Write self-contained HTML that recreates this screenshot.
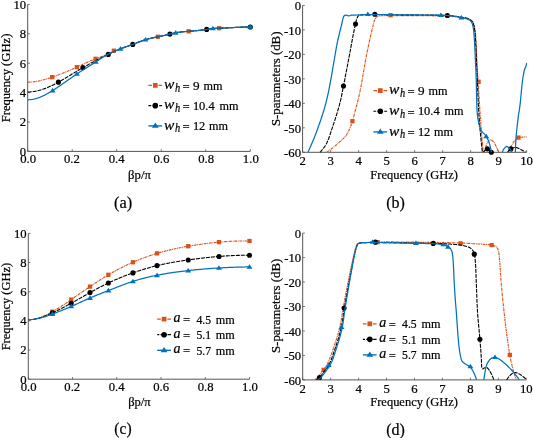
<!DOCTYPE html>
<html lang="en"><head><meta charset="utf-8"><title>Figure</title>
<style>html,body{margin:0;padding:0;background:#fff}svg{display:block;will-change:transform}svg text{stroke:#000;stroke-width:.22px;font-family:"Liberation Serif",serif}</style></head>
<body>
<svg width="533" height="438" viewBox="0 0 533 438" fill="#000">
<rect width="533" height="438" fill="#fff"/>
<g style="filter:opacity(1)">
<defs>
<clipPath id="ca"><rect x="27.7" y="1.4" width="223.6" height="150.4"/></clipPath>
<clipPath id="cb"><rect x="302.6" y="2.4" width="225" height="150.3"/></clipPath>
<clipPath id="cc"><rect x="28.3" y="230.4" width="222.2" height="149.2"/></clipPath>
<clipPath id="cd"><rect x="302.7" y="230.1" width="224.6" height="150.2"/></clipPath>
</defs>
<path d="M27.7 4.4 V151.4 H250.3" fill="none" stroke="#555555" stroke-width="1"/>
<path d="M27.7 151.4 v-2.2 M72.22 151.4 v-2.2 M116.74 151.4 v-2.2 M161.26 151.4 v-2.2 M205.78 151.4 v-2.2 M250.3 151.4 v-2.2 M27.7 151.4 h2.2 M27.7 122 h2.2 M27.7 92.6 h2.2 M27.7 63.2 h2.2 M27.7 33.8 h2.2 M27.7 4.4 h2.2" fill="none" stroke="#555555" stroke-width="0.8"/>
<text x="28.1" y="163.3" font-size="12.7" text-anchor="middle">0.0</text>
<text x="71.92" y="163.3" font-size="12.7" text-anchor="middle">0.2</text>
<text x="116.64" y="163.3" font-size="12.7" text-anchor="middle">0.4</text>
<text x="161.36" y="163.3" font-size="12.7" text-anchor="middle">0.6</text>
<text x="206.08" y="163.3" font-size="12.7" text-anchor="middle">0.8</text>
<text x="250.8" y="163.3" font-size="12.7" text-anchor="middle">1.0</text>
<text x="26.1" y="155.8" font-size="12.7" text-anchor="end">0</text>
<text x="26.1" y="126.4" font-size="12.7" text-anchor="end">2</text>
<text x="26.1" y="97" font-size="12.7" text-anchor="end">4</text>
<text x="26.1" y="67.6" font-size="12.7" text-anchor="end">6</text>
<text x="26.1" y="38.2" font-size="12.7" text-anchor="end">8</text>
<text x="26.1" y="8.8" font-size="12.7" text-anchor="end">10</text>
<path d="M27.7 82.16 L28.7 82.15 L29.7 82.12 L30.7 82.07 L31.7 81.99 L32.7 81.9 L33.7 81.79 L34.7 81.66 L35.7 81.51 L36.7 81.35 L37.7 81.17 L38.7 80.97 L39.7 80.76 L40.7 80.54 L41.7 80.3 L42.7 80.05 L43.7 79.78 L44.7 79.51 L45.7 79.23 L46.7 78.93 L47.7 78.63 L48.7 78.31 L49.7 77.99 L50.7 77.66 L51.7 77.33 L52.19 77.17 L52.7 76.99 L53.7 76.64 L54.7 76.29 L55.7 75.93 L56.7 75.57 L57.7 75.2 L58.7 74.83 L59.7 74.45 L60.7 74.07 L61.7 73.68 L62.7 73.28 L63.7 72.88 L64.7 72.48 L65.7 72.07 L66.7 71.66 L67.7 71.24 L68.7 70.81 L69.7 70.38 L70.7 69.95 L71.7 69.51 L72.7 69.07 L73.7 68.63 L74.7 68.17 L75.7 67.72 L76.7 67.26 L76.89 67.17 L77.7 66.8 L78.7 66.33 L79.7 65.86 L80.7 65.39 L81.7 64.91 L82.7 64.44 L83.7 63.97 L84.7 63.5 L85.7 63.04 L86.7 62.57 L87.7 62.12 L88.7 61.67 L89.7 61.22 L90.7 60.78 L91.7 60.36 L92.7 59.94 L93.7 59.53 L94.7 59.13 L95.59 58.79 L95.7 58.75 L96.7 58.38 L97.7 58.02 L98.7 57.66 L99.7 57.32 L100.7 56.97 L101.7 56.63 L102.7 56.28 L103.7 55.93 L104.7 55.57 L105.7 55.21 L106.7 54.83 L107.7 54.43 L107.84 54.38 L108.7 54.03 L109.7 53.6 L110.7 53.17 L111.7 52.72 L112.7 52.27 L113.7 51.81 L114.7 51.35 L115.7 50.9 L116.7 50.44 L117.7 50 L118.7 49.56 L119.7 49.13 L120.52 48.79 L120.7 48.72 L121.7 48.33 L122.7 47.94 L123.7 47.57 L124.7 47.21 L125.7 46.86 L126.7 46.51 L127.7 46.17 L128.7 45.82 L129.7 45.48 L130.7 45.13 L131.7 44.77 L132.7 44.41 L132.77 44.38 L133.7 44.04 L134.7 43.66 L135.7 43.27 L136.7 42.88 L137.7 42.49 L138.7 42.1 L139.7 41.72 L140.7 41.34 L141.7 40.96 L142.7 40.6 L143.7 40.25 L144.7 39.92 L145.46 39.68 L145.7 39.6 L146.7 39.31 L147.7 39.03 L148.7 38.76 L149.7 38.51 L150.7 38.27 L151.7 38.04 L152.7 37.82 L153.7 37.61 L154.7 37.4 L155.7 37.19 L156.7 36.99 L157.7 36.79 L157.92 36.74 L158.7 36.58 L159.7 36.37 L160.7 36.16 L161.7 35.95 L162.7 35.74 L163.7 35.52 L164.7 35.3 L165.7 35.08 L166.7 34.85 L167.7 34.62 L168.7 34.39 L169.7 34.15 L169.94 34.09 L170.7 33.91 L171.7 33.67 L172.7 33.43 L173.7 33.2 L174.7 32.98 L175.7 32.78 L175.73 32.77 L176.7 32.59 L177.7 32.42 L178.7 32.27 L179.7 32.13 L180.7 32.01 L181.7 31.9 L182.7 31.79 L183.7 31.7 L184.7 31.61 L185.7 31.53 L186.7 31.45 L187.7 31.37 L188.64 31.3 L188.7 31.3 L189.7 31.22 L190.7 31.14 L191.7 31.06 L192.7 30.97 L193.7 30.89 L194.7 30.8 L195.7 30.71 L196.7 30.61 L197.7 30.51 L198.7 30.41 L199.7 30.3 L200.7 30.19 L201.7 30.07 L202.7 29.94 L203.7 29.81 L204.7 29.68 L205.7 29.54 L206.67 29.39 L206.7 29.39 L207.7 29.23 L208.7 29.07 L209.7 28.92 L210.7 28.77 L211.7 28.64 L212.7 28.53 L212.9 28.51 L213.7 28.44 L214.7 28.37 L215.7 28.32 L216.7 28.28 L217.7 28.25 L218.7 28.23 L219.14 28.21 L219.7 28.2 L220.7 28.16 L221.7 28.13 L222.7 28.09 L223.7 28.04 L224.7 28 L225.7 27.95 L226.7 27.9 L227.7 27.85 L228.7 27.8 L229.7 27.75 L230.7 27.69 L231.7 27.64 L232.7 27.58 L233.7 27.53 L234.7 27.48 L234.72 27.48 L235.7 27.43 L236.7 27.38 L237.7 27.33 L238.7 27.29 L239.7 27.24 L240.7 27.2 L241.7 27.17 L242.7 27.14 L243.7 27.11 L244.7 27.08 L245.7 27.06 L246.7 27.05 L247.7 27.04 L248.7 27.03 L249.7 27.03 L250.3 27.04" fill="none" stroke="#D95319" stroke-width="1.15" stroke-dasharray="2.8 0.7 0.9 0.7" stroke-linejoin="round"/>
<rect x="50.04" y="75.02" width="4.3" height="4.3" fill="#D95319"/>
<rect x="74.74" y="65.02" width="4.3" height="4.3" fill="#D95319"/>
<rect x="93.44" y="56.64" width="4.3" height="4.3" fill="#D95319"/>
<rect x="111.7" y="48.56" width="4.3" height="4.3" fill="#D95319"/>
<rect x="155.77" y="34.59" width="4.3" height="4.3" fill="#D95319"/>
<rect x="186.49" y="29.15" width="4.3" height="4.3" fill="#D95319"/>
<rect x="216.99" y="26.06" width="4.3" height="4.3" fill="#D95319"/>
<path d="M27.7 92.01 L28.7 92 L29.7 91.96 L30.7 91.89 L31.7 91.8 L32.7 91.69 L33.7 91.55 L34.7 91.39 L35.7 91.2 L36.7 91 L37.7 90.77 L38.7 90.52 L39.7 90.25 L40.7 89.96 L41.7 89.65 L42.7 89.32 L43.7 88.97 L44.7 88.61 L45.7 88.23 L46.7 87.83 L47.7 87.42 L48.7 86.99 L49.7 86.55 L50.7 86.09 L51.7 85.62 L52.7 85.14 L53.7 84.65 L54.7 84.14 L55.7 83.62 L56.7 83.09 L57.7 82.56 L58.42 82.16 L58.7 82.01 L59.7 81.45 L60.7 80.89 L61.7 80.31 L62.7 79.74 L63.7 79.15 L64.7 78.56 L65.7 77.97 L66.7 77.37 L67.7 76.76 L68.7 76.16 L69.7 75.55 L70.7 74.94 L71.7 74.33 L72.7 73.72 L73.7 73.1 L74.7 72.49 L75.7 71.89 L76.7 71.28 L77.7 70.68 L78.7 70.08 L79.7 69.48 L80.7 68.89 L81.7 68.31 L82.7 67.73 L82.9 67.61 L83.7 67.16 L84.7 66.59 L85.7 66.03 L86.7 65.48 L87.7 64.93 L88.7 64.38 L89.7 63.84 L90.7 63.3 L91.7 62.77 L92.7 62.24 L93.7 61.7 L94.7 61.17 L95.59 60.7 L95.7 60.64 L96.7 60.11 L97.7 59.59 L98.7 59.06 L99.7 58.53 L100.7 58.01 L101.7 57.49 L102.7 56.97 L103.7 56.45 L104.7 55.94 L105.7 55.44 L106.7 54.94 L107.7 54.45 L107.84 54.38 L108.7 53.96 L109.7 53.48 L110.7 53.01 L111.7 52.54 L112.7 52.08 L113.7 51.63 L114.7 51.19 L115.7 50.76 L116.7 50.33 L117.7 49.92 L118.7 49.51 L119.7 49.11 L120.52 48.79 L120.7 48.73 L121.7 48.35 L122.7 47.98 L123.7 47.62 L124.7 47.26 L125.7 46.91 L126.7 46.56 L127.7 46.2 L128.7 45.85 L129.7 45.5 L130.7 45.14 L131.7 44.78 L132.7 44.41 L132.77 44.38 L133.7 44.03 L134.7 43.65 L135.7 43.26 L136.7 42.87 L137.7 42.48 L138.7 42.09 L139.7 41.7 L140.7 41.33 L141.7 40.96 L142.7 40.6 L143.7 40.25 L144.7 39.92 L145.46 39.68 L145.7 39.6 L146.7 39.31 L147.7 39.03 L148.7 38.76 L149.7 38.51 L150.7 38.27 L151.7 38.04 L152.7 37.82 L153.7 37.61 L154.7 37.4 L155.7 37.19 L156.7 36.99 L157.7 36.79 L157.92 36.74 L158.7 36.58 L159.7 36.37 L160.7 36.16 L161.7 35.95 L162.7 35.74 L163.7 35.52 L164.7 35.3 L165.7 35.08 L166.7 34.85 L167.7 34.62 L168.7 34.39 L169.7 34.15 L169.94 34.09 L170.7 33.91 L171.7 33.67 L172.7 33.43 L173.7 33.2 L174.7 32.98 L175.7 32.78 L175.73 32.77 L176.7 32.59 L177.7 32.42 L178.7 32.27 L179.7 32.13 L180.7 32.01 L181.7 31.9 L182.7 31.79 L183.7 31.7 L184.7 31.61 L185.7 31.53 L186.7 31.45 L187.7 31.37 L188.64 31.3 L188.7 31.3 L189.7 31.22 L190.7 31.14 L191.7 31.06 L192.7 30.97 L193.7 30.89 L194.7 30.8 L195.7 30.71 L196.7 30.61 L197.7 30.51 L198.7 30.41 L199.7 30.3 L200.7 30.19 L201.7 30.07 L202.7 29.94 L203.7 29.81 L204.7 29.68 L205.7 29.54 L206.67 29.39 L206.7 29.39 L207.7 29.23 L208.7 29.07 L209.7 28.92 L210.7 28.77 L211.7 28.64 L212.7 28.53 L212.9 28.51 L213.7 28.44 L214.7 28.37 L215.7 28.32 L216.7 28.28 L217.7 28.25 L218.7 28.23 L219.14 28.21 L219.7 28.2 L220.7 28.16 L221.7 28.13 L222.7 28.09 L223.7 28.04 L224.7 28 L225.7 27.95 L226.7 27.9 L227.7 27.85 L228.7 27.8 L229.7 27.75 L230.7 27.69 L231.7 27.64 L232.7 27.58 L233.7 27.53 L234.7 27.48 L234.72 27.48 L235.7 27.43 L236.7 27.38 L237.7 27.33 L238.7 27.29 L239.7 27.24 L240.7 27.2 L241.7 27.17 L242.7 27.14 L243.7 27.11 L244.7 27.08 L245.7 27.06 L246.7 27.05 L247.7 27.04 L248.7 27.03 L249.7 27.03 L250.3 27.04" fill="none" stroke="#000000" stroke-width="1.1" stroke-dasharray="4 1" stroke-linejoin="round"/>
<circle cx="58.42" cy="82.16" r="2.55" fill="#000000"/>
<circle cx="82.9" cy="67.61" r="2.55" fill="#000000"/>
<circle cx="108.28" cy="54.38" r="2.55" fill="#000000"/>
<circle cx="132.77" cy="44.38" r="2.55" fill="#000000"/>
<circle cx="169.94" cy="34.09" r="2.55" fill="#000000"/>
<circle cx="206.67" cy="29.39" r="2.55" fill="#000000"/>
<circle cx="250.3" cy="27.04" r="2.55" fill="#000000"/>
<path d="M27.7 99.8 L28.7 99.78 L29.7 99.73 L30.7 99.63 L31.7 99.5 L32.7 99.34 L33.7 99.14 L34.7 98.91 L35.7 98.65 L36.7 98.35 L37.7 98.03 L38.7 97.68 L39.7 97.31 L40.7 96.91 L41.7 96.48 L42.7 96.03 L43.7 95.56 L44.7 95.07 L45.7 94.55 L46.7 94.02 L47.7 93.47 L48.7 92.91 L49.7 92.32 L50.7 91.73 L51.7 91.12 L52.63 90.54 L52.7 90.5 L53.7 89.87 L54.7 89.22 L55.7 88.57 L56.7 87.91 L57.7 87.24 L58.7 86.57 L59.7 85.89 L60.7 85.2 L61.7 84.51 L62.7 83.81 L63.7 83.11 L64.7 82.41 L65.7 81.7 L66.7 81 L67.7 80.29 L68.7 79.59 L69.7 78.89 L70.7 78.18 L71.7 77.49 L72.7 76.79 L73.7 76.1 L74.7 75.41 L75.7 74.73 L76.7 74.06 L76.89 73.93 L77.7 73.4 L78.7 72.74 L79.7 72.08 L80.7 71.44 L81.7 70.8 L82.7 70.16 L83.7 69.52 L84.7 68.89 L85.7 68.26 L86.7 67.64 L87.7 67.01 L88.7 66.38 L89.7 65.76 L90.7 65.13 L91.7 64.5 L92.7 63.87 L93.7 63.23 L94.7 62.6 L95.7 61.95 L95.82 61.88 L96.7 61.3 L97.7 60.65 L98.7 60 L99.7 59.35 L100.7 58.7 L101.7 58.06 L102.7 57.42 L103.7 56.8 L104.7 56.19 L105.7 55.59 L106.7 55.01 L107.7 54.45 L107.84 54.38 L108.7 53.92 L109.7 53.4 L110.7 52.9 L111.7 52.42 L112.7 51.96 L113.7 51.52 L114.7 51.08 L115.7 50.67 L116.7 50.26 L117.7 49.86 L118.7 49.48 L119.7 49.1 L120.52 48.79 L120.7 48.73 L121.7 48.36 L122.7 48 L123.7 47.65 L124.7 47.29 L125.7 46.94 L126.7 46.58 L127.7 46.23 L128.7 45.87 L129.7 45.52 L130.7 45.15 L131.7 44.78 L132.7 44.41 L132.77 44.38 L133.7 44.03 L134.7 43.64 L135.7 43.25 L136.7 42.86 L137.7 42.47 L138.7 42.08 L139.7 41.7 L140.7 41.32 L141.7 40.95 L142.7 40.59 L143.7 40.25 L144.7 39.92 L145.46 39.68 L145.7 39.61 L146.7 39.31 L147.7 39.03 L148.7 38.77 L149.7 38.52 L150.7 38.28 L151.7 38.05 L152.7 37.82 L153.7 37.61 L154.7 37.4 L155.7 37.19 L156.7 36.99 L157.7 36.79 L157.92 36.74 L158.7 36.58 L159.7 36.37 L160.7 36.16 L161.7 35.95 L162.7 35.74 L163.7 35.52 L164.7 35.3 L165.7 35.08 L166.7 34.85 L167.7 34.62 L168.7 34.39 L169.7 34.15 L169.94 34.09 L170.7 33.91 L171.7 33.67 L172.7 33.43 L173.7 33.2 L174.7 32.98 L175.7 32.78 L175.73 32.77 L176.7 32.59 L177.7 32.42 L178.7 32.27 L179.7 32.13 L180.7 32.01 L181.7 31.9 L182.7 31.79 L183.7 31.7 L184.7 31.61 L185.7 31.53 L186.7 31.45 L187.7 31.37 L188.64 31.3 L188.7 31.3 L189.7 31.22 L190.7 31.14 L191.7 31.06 L192.7 30.97 L193.7 30.89 L194.7 30.8 L195.7 30.71 L196.7 30.61 L197.7 30.51 L198.7 30.41 L199.7 30.3 L200.7 30.19 L201.7 30.07 L202.7 29.94 L203.7 29.81 L204.7 29.68 L205.7 29.54 L206.67 29.39 L206.7 29.39 L207.7 29.23 L208.7 29.07 L209.7 28.92 L210.7 28.77 L211.7 28.64 L212.7 28.53 L212.9 28.51 L213.7 28.44 L214.7 28.37 L215.7 28.32 L216.7 28.28 L217.7 28.25 L218.7 28.23 L219.14 28.21 L219.7 28.2 L220.7 28.16 L221.7 28.13 L222.7 28.09 L223.7 28.04 L224.7 28 L225.7 27.95 L226.7 27.9 L227.7 27.85 L228.7 27.8 L229.7 27.75 L230.7 27.69 L231.7 27.64 L232.7 27.58 L233.7 27.53 L234.7 27.48 L234.72 27.48 L235.7 27.43 L236.7 27.38 L237.7 27.33 L238.7 27.29 L239.7 27.24 L240.7 27.2 L241.7 27.17 L242.7 27.14 L243.7 27.11 L244.7 27.08 L245.7 27.06 L246.7 27.05 L247.7 27.04 L248.7 27.03 L249.7 27.03 L250.3 27.04" fill="none" stroke="#0072BD" stroke-width="1.25" stroke-linejoin="round"/>
<path d="M52.63 87.84 L55.58 92.44 L49.68 92.44 Z" fill="#0072BD"/>
<path d="M76.89 71.23 L79.84 75.83 L73.94 75.83 Z" fill="#0072BD"/>
<path d="M95.82 59.18 L98.77 63.78 L92.87 63.78 Z" fill="#0072BD"/>
<path d="M120.52 46.09 L123.47 50.69 L117.57 50.69 Z" fill="#0072BD"/>
<path d="M145.46 36.98 L148.41 41.58 L142.51 41.58 Z" fill="#0072BD"/>
<path d="M175.73 30.07 L178.68 34.67 L172.78 34.67 Z" fill="#0072BD"/>
<path d="M212.9 25.66 L215.85 30.26 L209.95 30.26 Z" fill="#0072BD"/>
<path d="M250.3 24.04 L253.25 28.64 L247.35 28.64 Z" fill="#0072BD"/>
<text transform="translate(9.6 78) rotate(-90)" font-size="12.7" text-anchor="middle" textLength="88.7" lengthAdjust="spacingAndGlyphs">Frequency (GHz)</text>
<text x="139.5" y="178.8" font-size="12.7" text-anchor="middle" textLength="22.8" lengthAdjust="spacingAndGlyphs">βp/π</text>
<text x="123.1" y="207.6" font-size="16.5" text-anchor="middle" textLength="18.2" lengthAdjust="spacingAndGlyphs" stroke-width="0">(a)</text>
<path d="M302.6 5.4 V152.3 H526.6" fill="none" stroke="#555555" stroke-width="1"/>
<path d="M302.6 152.3 v-2.2 M330.6 152.3 v-2.2 M358.6 152.3 v-2.2 M386.6 152.3 v-2.2 M414.6 152.3 v-2.2 M442.6 152.3 v-2.2 M470.6 152.3 v-2.2 M498.6 152.3 v-2.2 M526.6 152.3 v-2.2 M302.6 152.3 h2.2 M302.6 127.82 h2.2 M302.6 103.33 h2.2 M302.6 78.85 h2.2 M302.6 54.37 h2.2 M302.6 29.88 h2.2 M302.6 5.4 h2.2" fill="none" stroke="#555555" stroke-width="0.8"/>
<text x="302.6" y="164.9" font-size="12.7" text-anchor="middle">2</text>
<text x="330.6" y="164.9" font-size="12.7" text-anchor="middle">3</text>
<text x="358.6" y="164.9" font-size="12.7" text-anchor="middle">4</text>
<text x="386.6" y="164.9" font-size="12.7" text-anchor="middle">5</text>
<text x="414.6" y="164.9" font-size="12.7" text-anchor="middle">6</text>
<text x="442.6" y="164.9" font-size="12.7" text-anchor="middle">7</text>
<text x="470.6" y="164.9" font-size="12.7" text-anchor="middle">8</text>
<text x="498.6" y="164.9" font-size="12.7" text-anchor="middle">9</text>
<text x="526.6" y="164.9" font-size="12.7" text-anchor="middle">10</text>
<text x="301" y="157.1" font-size="12.7" text-anchor="end">-60</text>
<text x="301" y="132.62" font-size="12.7" text-anchor="end">-50</text>
<text x="301" y="108.13" font-size="12.7" text-anchor="end">-40</text>
<text x="301" y="83.65" font-size="12.7" text-anchor="end">-30</text>
<text x="301" y="59.17" font-size="12.7" text-anchor="end">-20</text>
<text x="301" y="34.68" font-size="12.7" text-anchor="end">-10</text>
<text x="301" y="10.2" font-size="12.7" text-anchor="end">0</text>
<path d="M326.68 152.3 L327.51 151.73 L328.33 151.14 L329.15 150.55 L329.96 149.96 L330.77 149.35 L331.57 148.74 L332.36 148.13 L333.14 147.5 L333.92 146.87 L334.7 146.23 L335.46 145.59 L336.22 144.94 L336.97 144.28 L337.6 143.73 L337.72 143.62 L338.48 142.96 L339.24 142.29 L340.01 141.62 L340.78 140.94 L341.55 140.25 L342.3 139.55 L343.04 138.84 L343.76 138.12 L344.44 137.39 L345.09 136.64 L345.71 135.88 L346.28 135.1 L346.56 134.67 L346.8 134.3 L347.29 133.47 L347.77 132.62 L348.24 131.74 L348.68 130.85 L349.11 129.94 L349.53 129.01 L349.93 128.07 L350.32 127.12 L350.69 126.17 L351.05 125.21 L351.4 124.25 L351.74 123.29 L352.07 122.33 L352.38 121.38 L352.44 121.21 L352.69 120.43 L352.98 119.48 L353.25 118.52 L353.51 117.55 L353.76 116.58 L354.01 115.6 L354.25 114.62 L354.49 113.65 L354.73 112.67 L354.98 111.69 L355.23 110.72 L355.24 110.68 L355.48 109.75 L355.74 108.78 L356 107.81 L356.26 106.84 L356.51 105.87 L356.77 104.9 L357.02 103.93 L357.27 102.96 L357.52 101.99 L357.77 101.02 L358.01 100.04 L358.04 99.91 L358.24 99.07 L358.48 98.09 L358.71 97.12 L358.94 96.14 L359.17 95.16 L359.4 94.18 L359.62 93.21 L359.83 92.23 L360.04 91.25 L360.25 90.26 L360.28 90.11 L360.45 89.28 L360.64 88.3 L360.83 87.31 L361.02 86.33 L361.21 85.34 L361.39 84.36 L361.56 83.37 L361.74 82.38 L361.91 81.4 L362.09 80.41 L362.26 79.42 L362.42 78.43 L362.59 77.44 L362.76 76.45 L362.92 75.46 L363.09 74.47 L363.25 73.48 L363.42 72.49 L363.58 71.5 L363.75 70.51 L363.91 69.52 L364.08 68.53 L364.25 67.54 L364.42 66.55 L364.59 65.56 L364.76 64.57 L364.94 63.59 L365.12 62.6 L365.3 61.61 L365.48 60.63 L365.6 60 L365.67 59.64 L365.86 58.66 L366.05 57.67 L366.24 56.69 L366.43 55.7 L366.63 54.72 L366.82 53.73 L367.02 52.75 L367.22 51.77 L367.42 50.78 L367.62 49.8 L367.82 48.82 L368.03 47.84 L368.23 46.85 L368.44 45.87 L368.65 44.89 L368.86 43.91 L369.07 42.93 L369.24 42.12 L369.28 41.95 L369.49 40.97 L369.7 39.99 L369.91 39.01 L370.13 38.03 L370.34 37.05 L370.56 36.07 L370.78 35.09 L371 34.11 L371.22 33.13 L371.45 32.15 L371.68 31.17 L371.91 30.2 L372.15 29.23 L372.39 28.25 L372.6 27.44 L372.64 27.28 L372.88 26.3 L373.12 25.32 L373.36 24.33 L373.61 23.35 L373.88 22.37 L374.17 21.42 L374.49 20.48 L374.84 19.6 L374.85 19.57 L375.28 18.63 L375.81 17.71 L376.43 16.98 L376.52 16.91 L377.23 16.44 L378.21 16.03 L378.76 15.93 L379.17 15.9 L380.14 15.83 L381.12 15.78 L382.11 15.73 L383.12 15.69 L384.13 15.65 L385.14 15.62 L386.16 15.6 L387.18 15.58 L388.2 15.57 L389.21 15.56 L390.22 15.56 L390.52 15.56 L391.23 15.56 L392.23 15.56 L393.23 15.56 L394.24 15.57 L395.24 15.57 L396.24 15.57 L397.25 15.58 L398.25 15.58 L399.25 15.58 L400.25 15.59 L401.26 15.59 L402.26 15.6 L403.26 15.61 L404.27 15.61 L405.27 15.62 L406.27 15.63 L407.28 15.63 L408.28 15.64 L409.28 15.65 L410.29 15.65 L411.29 15.66 L412.29 15.67 L413.3 15.67 L414.3 15.68 L414.6 15.68 L415.3 15.69 L416.31 15.69 L417.31 15.7 L418.31 15.71 L419.32 15.71 L420.32 15.72 L421.32 15.72 L422.33 15.73 L423.33 15.73 L424.33 15.74 L425.34 15.75 L426.34 15.75 L427.35 15.76 L428.35 15.77 L429.35 15.77 L430.36 15.78 L431.36 15.79 L432.36 15.8 L433.37 15.81 L434.37 15.82 L435.37 15.83 L436.37 15.84 L437.38 15.85 L438.38 15.87 L439.38 15.88 L440.38 15.89 L441.39 15.91 L442.39 15.92 L442.6 15.93 L443.39 15.94 L444.39 15.97 L445.4 16.01 L446.4 16.05 L447.4 16.1 L448.41 16.16 L449.41 16.23 L450.41 16.3 L451.41 16.38 L452.42 16.46 L453.42 16.55 L454.42 16.64 L455.42 16.73 L456.41 16.83 L457.41 16.94 L458.4 17.04 L459.4 17.15 L459.4 17.15 L460.4 17.27 L461.41 17.4 L462.43 17.54 L463.44 17.7 L464.45 17.88 L465.45 18.08 L466.42 18.31 L467.36 18.56 L468.27 18.84 L468.36 18.87 L469.19 19.19 L470.14 19.68 L471.06 20.27 L471.88 20.93 L472.55 21.64 L472.84 22.05 L473.02 22.37 L473.4 23.2 L473.75 24.12 L474.04 25.12 L474.31 26.15 L474.53 27.19 L474.72 28.22 L474.8 28.66 L474.89 29.2 L475.04 30.19 L475.18 31.18 L475.3 32.18 L475.42 33.18 L475.52 34.18 L475.61 35.18 L475.7 36.18 L475.78 37.18 L475.78 37.23 L475.85 38.18 L475.91 39.18 L475.98 40.18 L476.04 41.18 L476.1 42.18 L476.15 43.18 L476.2 44.18 L476.25 45.19 L476.3 46.19 L476.35 47.19 L476.39 48.19 L476.43 49.2 L476.47 50.2 L476.51 51.2 L476.55 52.2 L476.59 53.21 L476.63 54.21 L476.67 55.21 L476.71 56.22 L476.75 57.22 L476.79 58.22 L476.83 59.23 L476.87 60.23 L476.91 61.23 L476.96 62.23 L477.01 63.24 L477.06 64.24 L477.11 65.24 L477.16 66.24 L477.18 66.61 L477.22 67.24 L477.27 68.24 L477.33 69.25 L477.4 70.25 L477.46 71.25 L477.53 72.25 L477.59 73.25 L477.66 74.25 L477.73 75.25 L477.79 76.25 L477.86 77.25 L477.93 78.26 L478 79.26 L478.06 80.26 L478.13 81.26 L478.16 81.79 L478.19 82.26 L478.25 83.26 L478.32 84.26 L478.38 85.26 L478.44 86.26 L478.5 87.27 L478.56 88.27 L478.62 89.27 L478.68 90.27 L478.74 91.27 L478.8 92.27 L478.86 93.27 L478.92 94.28 L478.98 95.28 L479.04 96.28 L479.1 97.28 L479.16 98.28 L479.22 99.28 L479.28 100.28 L479.34 101.29 L479.4 102.29 L479.46 103.29 L479.52 104.29 L479.59 105.29 L479.65 106.29 L479.71 107.29 L479.77 108.29 L479.84 109.3 L479.9 110.3 L479.97 111.3 L480.04 112.3 L480.1 113.3 L480.17 114.3 L480.24 115.3 L480.26 115.58 L480.31 116.3 L480.38 117.3 L480.45 118.3 L480.52 119.3 L480.6 120.3 L480.67 121.3 L480.74 122.3 L480.82 123.3 L480.89 124.31 L480.97 125.31 L481.04 126.31 L481.12 127.31 L481.2 128.31 L481.27 129.31 L481.35 130.31 L481.43 131.31 L481.51 132.31 L481.59 133.31 L481.67 134.31 L481.75 135.31 L481.83 136.31 L481.91 137.31 L482 138.31 L482.08 139.31 L482.16 140.31 L482.25 141.31 L482.33 142.31 L482.41 143.3 L482.5 144.3 L482.59 145.3 L482.67 146.3 L482.76 147.3 L482.85 148.3 L482.93 149.3 L483.02 150.3 L483.11 151.3 L483.2 152.3" fill="none" stroke="#D95319" stroke-width="1.15" stroke-dasharray="2.8 0.7 0.9 0.7" clip-path="url(#cb)" stroke-linejoin="round"/>
<path d="M484.32 152.3 L484.52 151.25 L484.76 150.22 L485.03 149.19 L485.33 148.18 L485.65 147.18 L486 146.19 L486 146.18 L486.36 145.18 L486.76 144.16 L487.21 143.16 L487.71 142.24 L488.24 141.53 L488.3 141.46 L489.09 140.67 L490.03 140.02 L490.76 139.81 L490.94 139.83 L491.87 140.26 L492.76 141.01 L493.28 141.53 L493.5 141.76 L494.13 142.56 L494.7 143.46 L495.23 144.41 L495.71 145.39 L496.08 146.18 L496.16 146.35 L496.58 147.3 L496.99 148.27 L497.37 149.25 L497.72 150.25 L498.04 151.27 L498.32 152.3" fill="none" stroke="#D95319" stroke-width="1.15" stroke-dasharray="2.8 0.7 0.9 0.7" clip-path="url(#cb)" stroke-linejoin="round"/>
<path d="M508.4 152.3 L508.78 151.31 L509.19 150.34 L509.61 149.37 L510.06 148.42 L510.52 147.48 L511 146.55 L511.2 146.18 L511.5 145.63 L512.01 144.7 L512.54 143.77 L513.1 142.86 L513.69 141.99 L514.32 141.16 L514.84 140.55 L514.99 140.39 L515.72 139.58 L516.52 138.79 L517.37 138.12 L518.26 137.67 L518.48 137.61 L519.22 137.46 L520.26 137.32 L521.34 137.21 L522.4 137.12 L522.4 137.12 L523.45 137.04 L524.5 136.97 L525.55 136.91 L526.6 136.88" fill="none" stroke="#D95319" stroke-width="1.15" stroke-dasharray="2.8 0.7 0.9 0.7" clip-path="url(#cb)" stroke-linejoin="round"/>
<rect x="350.29" y="119.06" width="4.3" height="4.3" fill="#D95319"/>
<rect x="388.37" y="13.04" width="4.3" height="4.3" fill="#D95319"/>
<rect x="476.43" y="79.64" width="4.3" height="4.3" fill="#D95319"/>
<rect x="516.33" y="135.46" width="4.3" height="4.3" fill="#D95319"/>
<path d="M319.96 152.3 L320.66 151.55 L321.34 150.78 L322.01 150.01 L322.67 149.23 L323.3 148.44 L323.92 147.64 L324.5 146.82 L325.06 146 L325.59 145.16 L326.08 144.31 L326.4 143.73 L326.54 143.45 L326.98 142.58 L327.39 141.69 L327.79 140.78 L328.17 139.86 L328.54 138.93 L328.9 137.99 L329.24 137.04 L329.57 136.09 L329.9 135.13 L330.22 134.16 L330.54 133.2 L330.85 132.23 L331.16 131.26 L331.47 130.29 L331.78 129.33 L332.09 128.37 L332.28 127.82 L332.41 127.42 L332.73 126.47 L333.05 125.52 L333.37 124.57 L333.68 123.61 L334 122.66 L334.31 121.71 L334.63 120.75 L334.94 119.8 L335.25 118.84 L335.56 117.88 L335.87 116.93 L336.17 115.97 L336.47 115.01 L336.77 114.05 L337.07 113.09 L337.36 112.12 L337.65 111.16 L337.93 110.2 L338.21 109.23 L338.49 108.27 L338.76 107.3 L339.03 106.34 L339.3 105.37 L339.55 104.4 L339.81 103.43 L340.06 102.46 L340.3 101.49 L340.53 100.52 L340.68 99.91 L340.77 99.54 L340.99 98.57 L341.2 97.59 L341.41 96.61 L341.61 95.62 L341.81 94.64 L342.01 93.65 L342.2 92.67 L342.38 91.68 L342.57 90.69 L342.76 89.71 L342.94 88.72 L343.13 87.73 L343.32 86.75 L343.48 85.95 L343.52 85.76 L343.71 84.78 L343.91 83.79 L344.1 82.81 L344.29 81.82 L344.48 80.84 L344.68 79.85 L344.87 78.87 L345.06 77.88 L345.25 76.9 L345.44 75.91 L345.63 74.93 L345.82 73.94 L346.01 72.96 L346.2 71.97 L346.4 70.98 L346.59 70 L346.78 69.01 L346.97 68.03 L347.16 67.04 L347.35 66.06 L347.54 65.07 L347.73 64.09 L347.92 63.1 L348.11 62.12 L348.3 61.13 L348.49 60.15 L348.52 60 L348.68 59.16 L348.87 58.17 L349.06 57.19 L349.24 56.2 L349.43 55.21 L349.61 54.23 L349.8 53.24 L349.98 52.25 L350.16 51.26 L350.34 50.28 L350.52 49.29 L350.7 48.3 L350.88 47.31 L351.06 46.32 L351.24 45.33 L351.42 44.35 L351.6 43.36 L351.78 42.37 L351.97 41.38 L352.15 40.4 L352.33 39.41 L352.52 38.42 L352.71 37.44 L352.9 36.45 L353.09 35.47 L353.28 34.48 L353.48 33.5 L353.68 32.51 L353.88 31.53 L354.08 30.55 L354.29 29.57 L354.5 28.59 L354.71 27.61 L354.93 26.63 L355.14 25.65 L355.37 24.67 L355.52 24.01 L355.59 23.7 L355.81 22.7 L356.02 21.7 L356.24 20.7 L356.49 19.72 L356.78 18.77 L357.11 17.85 L357.2 17.64 L357.55 16.93 L358.15 16.05 L358.6 15.68 L358.88 15.55 L359.82 15.22 L360.87 15.01 L361.4 14.95 L361.87 14.91 L362.86 14.84 L363.85 14.78 L364.85 14.72 L365.85 14.67 L366.85 14.62 L367.86 14.58 L368.87 14.55 L369.88 14.52 L370.89 14.5 L371.9 14.48 L372.9 14.47 L373.91 14.46 L374.84 14.46 L374.92 14.46 L375.92 14.46 L376.92 14.46 L377.93 14.47 L378.93 14.48 L379.93 14.49 L380.94 14.5 L381.94 14.51 L382.94 14.53 L383.95 14.54 L384.95 14.56 L385.95 14.58 L386.96 14.59 L387.96 14.61 L388.96 14.63 L389.97 14.65 L390.97 14.67 L391.98 14.69 L392.98 14.71 L393.98 14.73 L394.99 14.74 L395.99 14.76 L396.99 14.78 L398 14.79 L399 14.81 L400 14.82 L400.6 14.83 L401.01 14.83 L402.01 14.84 L403.02 14.85 L404.02 14.86 L405.02 14.87 L406.03 14.88 L407.03 14.89 L408.03 14.89 L409.04 14.9 L410.04 14.91 L411.04 14.92 L412.05 14.92 L413.05 14.93 L414.06 14.94 L415.06 14.95 L416.06 14.95 L417.07 14.96 L418.07 14.97 L419.07 14.98 L420.08 14.99 L421.08 14.99 L422.08 15 L423.09 15.01 L424.09 15.02 L425.09 15.03 L426.1 15.04 L427.1 15.05 L428.11 15.06 L428.6 15.07 L429.11 15.08 L430.11 15.09 L431.12 15.1 L432.12 15.11 L433.13 15.13 L434.13 15.14 L435.14 15.16 L436.14 15.17 L437.14 15.19 L438.15 15.2 L439.15 15.22 L440.16 15.24 L441.16 15.26 L442.16 15.29 L443.17 15.31 L444.17 15.34 L445.17 15.37 L446.17 15.4 L447.17 15.43 L447.36 15.44 L448.17 15.47 L449.17 15.54 L450.17 15.62 L451.17 15.72 L452.17 15.84 L453.16 15.96 L454.16 16.1 L455.16 16.25 L456.15 16.4 L457.15 16.55 L458.14 16.71 L459.13 16.87 L459.4 16.91 L460.12 17.02 L461.13 17.17 L462.15 17.33 L463.16 17.5 L464.17 17.69 L465.16 17.89 L466.13 18.12 L467.06 18.38 L467.8 18.62 L467.96 18.68 L468.89 19.08 L469.84 19.59 L470.75 20.2 L471.56 20.86 L472.23 21.57 L472.56 22.05 L472.7 22.3 L473.1 23.13 L473.44 24.05 L473.75 25.04 L474.02 26.07 L474.25 27.11 L474.44 28.13 L474.52 28.66 L474.59 29.12 L474.72 30.11 L474.84 31.1 L474.95 32.1 L475.04 33.1 L475.13 34.11 L475.21 35.11 L475.28 36.12 L475.35 37.12 L475.36 37.23 L475.42 38.12 L475.48 39.12 L475.55 40.12 L475.61 41.12 L475.66 42.12 L475.72 43.13 L475.77 44.13 L475.83 45.13 L475.88 46.13 L475.92 47.13 L475.97 48.14 L476.02 49.14 L476.06 50.14 L476.11 51.15 L476.15 52.15 L476.19 53.15 L476.23 54.16 L476.27 55.16 L476.32 56.16 L476.36 57.16 L476.4 58.17 L476.44 59.17 L476.48 60.17 L476.52 61.18 L476.56 62.18 L476.61 63.18 L476.65 64.19 L476.69 65.19 L476.74 66.19 L476.76 66.61 L476.79 67.19 L476.83 68.2 L476.88 69.2 L476.92 70.2 L476.97 71.21 L477.01 72.21 L477.05 73.21 L477.1 74.21 L477.14 75.22 L477.18 76.22 L477.22 77.22 L477.26 78.23 L477.31 79.23 L477.35 80.23 L477.39 81.24 L477.43 82.24 L477.47 83.24 L477.51 84.24 L477.55 85.25 L477.59 86.25 L477.63 87.25 L477.67 88.26 L477.71 89.26 L477.75 90.26 L477.79 91.27 L477.84 92.27 L477.88 93.27 L477.92 94.28 L477.96 95.28 L478.01 96.28 L478.05 97.28 L478.1 98.29 L478.14 99.29 L478.19 100.29 L478.23 101.29 L478.28 102.3 L478.33 103.3 L478.38 104.3 L478.43 105.3 L478.48 106.31 L478.53 107.31 L478.58 108.31 L478.64 109.31 L478.69 110.31 L478.75 111.31 L478.8 112.32 L478.86 113.32 L478.92 114.32 L478.98 115.32 L479 115.58 L479.05 116.32 L479.11 117.32 L479.18 118.32 L479.25 119.32 L479.32 120.32 L479.39 121.32 L479.46 122.32 L479.54 123.32 L479.62 124.32 L479.7 125.32 L479.78 126.32 L479.86 127.32 L479.95 128.32 L480.04 129.32 L480.12 130.32 L480.21 131.32 L480.3 132.32 L480.4 133.32 L480.49 134.32 L480.59 135.32 L480.68 136.32 L480.78 137.32 L480.88 138.32 L480.98 139.32 L481.08 140.32 L481.18 141.32 L481.28 142.32 L481.39 143.31 L481.49 144.31 L481.6 145.31 L481.71 146.31 L481.81 147.31 L481.92 148.31 L482.03 149.31 L482.14 150.3 L482.25 151.3 L482.36 152.3" fill="none" stroke="#000000" stroke-width="1.1" stroke-dasharray="4 1" clip-path="url(#cb)" stroke-linejoin="round"/>
<path d="M483.48 152.3 L483.87 151.59 L484.32 150.96 L484.82 150.39 L485.36 149.92 L485.44 149.85 L485.97 149.47 L486.68 149.06 L487.37 148.87 L487.4 148.87 L488.03 149.04 L488.68 149.49 L489.3 150.04 L489.64 150.34 L489.87 150.55 L490.39 151.08 L490.87 151.67 L491.32 152.3" fill="none" stroke="#000000" stroke-width="1.1" stroke-dasharray="4 1" clip-path="url(#cb)" stroke-linejoin="round"/>
<path d="M507.56 152.3 L508.22 151.33 L508.95 150.46 L509.74 149.69 L510.58 149.07 L510.92 148.87 L511.48 148.58 L512.49 148.11 L513.57 147.72 L514.65 147.46 L515.4 147.4 L515.7 147.42 L516.73 147.62 L517.76 148.01 L518.78 148.51 L519.79 149.04 L520.44 149.36 L520.77 149.52 L521.74 150.01 L522.7 150.54 L523.64 151.09 L524.57 151.68 L525.48 152.3" fill="none" stroke="#000000" stroke-width="1.1" stroke-dasharray="4 1" clip-path="url(#cb)" stroke-linejoin="round"/>
<circle cx="343.48" cy="85.95" r="2.55" fill="#000000"/>
<circle cx="355.52" cy="24.01" r="2.55" fill="#000000"/>
<circle cx="374.84" cy="14.21" r="2.55" fill="#000000"/>
<circle cx="447.36" cy="15.44" r="2.55" fill="#000000"/>
<circle cx="487.4" cy="148.87" r="2.55" fill="#000000"/>
<circle cx="491.32" cy="152.3" r="2.55" fill="#000000"/>
<circle cx="510.92" cy="148.87" r="2.55" fill="#000000"/>
<path d="M307.92 152.3 L308.34 151.39 L308.76 150.47 L309.17 149.55 L309.59 148.64 L310 147.72 L310.4 146.8 L310.81 145.88 L311.21 144.96 L311.61 144.03 L312 143.11 L312.4 142.18 L312.79 141.26 L313.17 140.33 L313.56 139.4 L313.93 138.47 L314.31 137.54 L314.68 136.61 L315.05 135.68 L315.42 134.74 L315.78 133.81 L316.14 132.87 L316.49 131.93 L316.84 131 L317.19 130.06 L317.53 129.12 L317.87 128.17 L318 127.82 L318.21 127.23 L318.54 126.29 L318.88 125.34 L319.21 124.39 L319.54 123.45 L319.87 122.5 L320.2 121.55 L320.52 120.6 L320.85 119.64 L321.17 118.69 L321.49 117.74 L321.8 116.78 L322.12 115.82 L322.43 114.87 L322.73 113.91 L323.04 112.95 L323.34 111.99 L323.63 111.03 L323.92 110.06 L324.21 109.1 L324.49 108.14 L324.77 107.17 L325.04 106.2 L325.31 105.24 L325.57 104.27 L325.83 103.3 L326.08 102.33 L326.32 101.36 L326.56 100.39 L326.68 99.91 L326.8 99.42 L327.02 98.45 L327.25 97.47 L327.47 96.5 L327.69 95.52 L327.9 94.54 L328.11 93.57 L328.32 92.59 L328.53 91.6 L328.73 90.62 L328.93 89.64 L329.12 88.66 L329.32 87.67 L329.51 86.69 L329.7 85.7 L329.88 84.71 L330.07 83.73 L330.25 82.74 L330.43 81.75 L330.61 80.76 L330.79 79.77 L330.97 78.78 L331.14 77.79 L331.32 76.8 L331.49 75.81 L331.66 74.82 L331.84 73.83 L332.01 72.84 L332.18 71.85 L332.35 70.86 L332.52 69.87 L332.69 68.87 L332.86 67.88 L333.03 66.89 L333.2 65.9 L333.38 64.91 L333.55 63.92 L333.72 62.93 L333.89 61.94 L334.07 60.95 L334.24 60 L334.25 59.97 L334.42 58.98 L334.59 57.99 L334.76 57 L334.92 56.01 L335.08 55.02 L335.24 54.02 L335.41 53.03 L335.57 52.04 L335.73 51.05 L335.9 50.06 L336.07 49.07 L336.24 48.08 L336.42 47.1 L336.6 46.11 L336.76 45.31 L336.8 45.13 L336.99 44.14 L337.19 43.16 L337.4 42.18 L337.61 41.2 L337.83 40.22 L338.05 39.24 L338.27 38.26 L338.5 37.28 L338.72 36.31 L338.96 35.33 L339.19 34.35 L339.43 33.38 L339.66 32.4 L339.9 31.43 L340.14 30.45 L340.39 29.48 L340.63 28.5 L340.87 27.53 L341.11 26.55 L341.35 25.58 L341.59 24.6 L341.8 23.76 L341.83 23.63 L342.06 22.64 L342.27 21.64 L342.48 20.64 L342.7 19.65 L342.96 18.69 L343.25 17.75 L343.48 17.15 L343.62 16.82 L344.14 15.84 L344.6 15.44 L344.84 15.37 L345.88 15.21 L346.28 15.19 L346.87 15.3 L347.84 15.69 L348.8 15.93 L348.8 15.93 L349.76 15.74 L350.73 15.39 L351.6 15.19 L351.71 15.19 L352.7 15.13 L353.7 15.09 L354.7 15.05 L355.71 15.03 L356.72 15 L357.73 14.98 L358.6 14.95 L358.73 14.94 L359.74 14.9 L360.74 14.85 L361.74 14.8 L362.75 14.75 L363.75 14.7 L364.75 14.65 L365.75 14.62 L366.76 14.59 L367.76 14.58 L367.84 14.58 L368.76 14.58 L369.77 14.58 L370.77 14.59 L371.77 14.59 L372.78 14.6 L373.78 14.6 L374.79 14.61 L375.79 14.61 L376.79 14.62 L377.8 14.63 L378.8 14.64 L379.8 14.65 L380.81 14.66 L381.81 14.66 L382.82 14.67 L383.82 14.68 L384.82 14.69 L385.83 14.7 L386.6 14.7 L386.83 14.71 L387.83 14.71 L388.84 14.72 L389.84 14.73 L390.85 14.74 L391.85 14.74 L392.85 14.75 L393.86 14.76 L394.86 14.77 L395.86 14.78 L396.87 14.79 L397.87 14.8 L398.88 14.8 L399.88 14.81 L400.88 14.82 L401.89 14.83 L402.89 14.84 L403.89 14.85 L404.9 14.86 L405.9 14.87 L406.9 14.88 L407.91 14.89 L408.91 14.9 L409.92 14.91 L410.92 14.91 L411.92 14.92 L412.93 14.93 L413.93 14.94 L414.6 14.95 L414.93 14.95 L415.94 14.96 L416.94 14.97 L417.95 14.98 L418.95 14.98 L419.95 14.99 L420.96 15 L421.96 15 L422.97 15.01 L423.97 15.02 L424.97 15.02 L425.98 15.03 L426.98 15.04 L427.99 15.04 L428.99 15.05 L429.99 15.06 L431 15.07 L432 15.08 L433.01 15.08 L434.01 15.1 L435.01 15.11 L436.02 15.12 L437.02 15.13 L438.02 15.15 L439.02 15.16 L440.03 15.18 L440.92 15.19 L441.03 15.2 L442.03 15.22 L443.04 15.26 L444.04 15.31 L445.04 15.36 L446.05 15.43 L447.05 15.5 L448.05 15.59 L449.05 15.68 L450.05 15.77 L451.05 15.87 L452.05 15.98 L453.04 16.09 L453.8 16.17 L454.04 16.2 L455.03 16.34 L456.02 16.51 L457 16.7 L457.99 16.9 L458.97 17.12 L459.95 17.34 L460.93 17.55 L461.36 17.64 L461.92 17.76 L462.93 17.94 L463.95 18.13 L464.97 18.32 L465.96 18.54 L466.9 18.8 L467.79 19.11 L467.8 19.11 L468.66 19.54 L469.54 20.12 L470.37 20.82 L471.08 21.59 L471.63 22.38 L471.72 22.54 L472.02 23.2 L472.36 24.1 L472.66 25.07 L472.92 26.09 L473.14 27.12 L473.32 28.14 L473.4 28.66 L473.47 29.13 L473.6 30.11 L473.72 31.11 L473.82 32.11 L473.92 33.11 L474.01 34.11 L474.09 35.12 L474.16 36.12 L474.23 37.12 L474.24 37.23 L474.3 38.12 L474.37 39.13 L474.43 40.13 L474.49 41.13 L474.55 42.13 L474.61 43.13 L474.66 44.13 L474.71 45.14 L474.76 46.14 L474.81 47.14 L474.86 48.14 L474.91 49.15 L474.95 50.15 L475 51.15 L475.04 52.16 L475.09 53.16 L475.13 54.16 L475.18 55.17 L475.22 56.17 L475.26 57.17 L475.31 58.17 L475.36 59.18 L475.36 59.26 L475.4 60.18 L475.45 61.18 L475.5 62.19 L475.54 63.19 L475.59 64.19 L475.64 65.19 L475.68 66.2 L475.73 67.2 L475.77 68.2 L475.82 69.2 L475.86 70.21 L475.91 71.21 L475.95 72.21 L475.99 73.22 L476.03 74.22 L476.07 75.22 L476.11 76.22 L476.14 77.23 L476.18 78.23 L476.2 78.85 L476.21 79.23 L476.24 80.24 L476.27 81.24 L476.3 82.24 L476.33 83.25 L476.35 84.25 L476.38 85.26 L476.4 86.26 L476.42 87.27 L476.44 88.27 L476.46 89.28 L476.48 90.28 L476.5 91.29 L476.52 92.29 L476.54 93.3 L476.55 94.3 L476.57 95.31 L476.59 96.31 L476.62 97.32 L476.64 98.32 L476.66 99.32 L476.69 100.33 L476.71 101.33 L476.74 102.33 L476.77 103.34 L476.8 104.34 L476.84 105.34 L476.87 106.34 L476.91 107.34 L476.95 108.34 L477 109.34 L477.04 110.19 L477.05 110.34 L477.11 111.34 L477.18 112.34 L477.27 113.34 L477.37 114.35 L477.49 115.35 L477.62 116.35 L477.76 117.35 L477.91 118.35 L478.07 119.35 L478.24 120.34 L478.43 121.33 L478.62 122.31 L478.82 123.28 L479 124.14 L479.02 124.25 L479.26 125.22 L479.55 126.19 L479.88 127.16 L480.25 128.11 L480.65 129.04 L481.07 129.93 L481.24 130.27 L481.54 130.78 L482.11 131.58 L482.76 132.34 L483.46 133.09 L484.18 133.83 L484.89 134.58 L485.55 135.35 L486.13 136.15 L486.28 136.39 L486.63 136.99 L487.12 137.87 L487.57 138.77 L488 139.7 L488.4 140.63 L488.76 141.57 L489.08 142.51 L489.08 142.52 L489.38 143.46 L489.66 144.41 L489.94 145.37 L490.19 146.34 L490.44 147.31 L490.66 148.29 L490.87 149.28 L491.04 150.28 L491.2 151.29 L491.32 152.3" fill="none" stroke="#0072BD" stroke-width="1.25" clip-path="url(#cb)" stroke-linejoin="round"/>
<path d="M502.24 152.3 L502.62 151.2 L503.1 150.18 L503.66 149.24 L503.92 148.87 L504.31 148.34 L505.13 147.38 L506.04 146.63 L506.72 146.42 L506.94 146.45 L507.89 146.9 L508.84 147.7 L509.52 148.38 L509.65 148.52 L510.35 149.33 L511 150.24 L511.56 151.23 L512.04 152.3" fill="none" stroke="#0072BD" stroke-width="1.25" clip-path="url(#cb)" stroke-linejoin="round"/>
<path d="M515.4 152.3 L515.41 151.28 L515.42 150.26 L515.45 149.24 L515.47 148.22 L515.51 147.21 L515.54 146.19 L515.59 145.17 L515.64 144.16 L515.69 143.14 L515.75 142.13 L515.81 141.11 L515.88 140.1 L515.95 139.09 L516.02 138.07 L516.1 137.06 L516.19 136.05 L516.27 135.04 L516.36 134.03 L516.46 133.02 L516.55 132.01 L516.65 131 L516.75 129.99 L516.86 128.98 L516.97 127.98 L517.08 126.97 L517.19 125.96 L517.3 124.96 L517.42 123.95 L517.53 122.94 L517.65 121.94 L517.77 120.93 L517.89 119.93 L518.01 118.92 L518.13 117.92 L518.26 116.91 L518.38 115.91 L518.48 115.09 L518.5 114.91 L518.65 113.91 L518.83 112.91 L519.02 111.91 L519.2 110.91 L519.32 110.19 L519.36 109.91 L519.51 108.9 L519.65 107.9 L519.78 106.89 L519.91 105.88 L520.03 104.87 L520.15 103.85 L520.26 102.84 L520.37 101.82 L520.48 100.8 L520.58 99.79 L520.68 98.77 L520.78 97.75 L520.87 96.73 L520.97 95.71 L521.06 94.68 L521.16 93.66 L521.25 92.64 L521.34 91.62 L521.44 90.61 L521.54 89.59 L521.63 88.57 L521.74 87.55 L521.84 86.54 L521.95 85.53 L522.06 84.52 L522.17 83.51 L522.29 82.5 L522.41 81.49 L522.54 80.49 L522.68 79.49 L522.82 78.49 L522.97 77.5 L523.12 76.51 L523.28 75.52 L523.45 74.54 L523.63 73.56 L523.82 72.58 L524.02 71.61 L524.23 70.64 L524.36 70.04 L524.46 69.68 L524.82 68.74 L525.26 67.81 L525.69 66.88 L526.03 65.92 L526.04 65.87 L526.26 64.94 L526.46 63.95 L526.6 62.94" fill="none" stroke="#0072BD" stroke-width="1.25" clip-path="url(#cb)" stroke-linejoin="round"/>
<path d="M367.84 11.51 L370.79 16.11 L364.89 16.11 Z" fill="#0072BD"/>
<path d="M440.92 12.49 L443.87 17.09 L437.97 17.09 Z" fill="#0072BD"/>
<path d="M461.36 14.94 L464.31 19.54 L458.41 19.54 Z" fill="#0072BD"/>
<path d="M486.28 133.69 L489.23 138.29 L483.33 138.29 Z" fill="#0072BD"/>
<text transform="translate(280 78.8) rotate(-90)" font-size="12.7" text-anchor="middle" textLength="94.5" lengthAdjust="spacingAndGlyphs">S-parameters (dB)</text>
<text x="414.1" y="178.5" font-size="12.7" text-anchor="middle" textLength="87.6" lengthAdjust="spacingAndGlyphs">Frequency (GHz)</text>
<text x="395.6" y="207.6" font-size="16.5" text-anchor="middle" textLength="18.7" lengthAdjust="spacingAndGlyphs" stroke-width="0">(b)</text>
<path d="M28.3 233.4 V379.2 H249.5" fill="none" stroke="#555555" stroke-width="1"/>
<path d="M28.3 379.2 v-2.2 M72.54 379.2 v-2.2 M116.78 379.2 v-2.2 M161.02 379.2 v-2.2 M205.26 379.2 v-2.2 M249.5 379.2 v-2.2 M28.3 379.2 h2.2 M28.3 350.04 h2.2 M28.3 320.88 h2.2 M28.3 291.72 h2.2 M28.3 262.56 h2.2 M28.3 233.4 h2.2" fill="none" stroke="#555555" stroke-width="0.8"/>
<text x="28.7" y="391.1" font-size="12.7" text-anchor="middle">0.0</text>
<text x="72.24" y="391.1" font-size="12.7" text-anchor="middle">0.2</text>
<text x="116.68" y="391.1" font-size="12.7" text-anchor="middle">0.4</text>
<text x="161.12" y="391.1" font-size="12.7" text-anchor="middle">0.6</text>
<text x="205.56" y="391.1" font-size="12.7" text-anchor="middle">0.8</text>
<text x="250" y="391.1" font-size="12.7" text-anchor="middle">1.0</text>
<text x="26.7" y="383.6" font-size="12.7" text-anchor="end">0</text>
<text x="26.7" y="354.44" font-size="12.7" text-anchor="end">2</text>
<text x="26.7" y="325.28" font-size="12.7" text-anchor="end">4</text>
<text x="26.7" y="296.12" font-size="12.7" text-anchor="end">6</text>
<text x="26.7" y="266.96" font-size="12.7" text-anchor="end">8</text>
<text x="26.7" y="237.8" font-size="12.7" text-anchor="end">10</text>
<path d="M28.3 319.71 L29.3 319.7 L30.3 319.64 L31.3 319.56 L32.3 319.44 L33.3 319.29 L34.3 319.11 L35.3 318.9 L36.3 318.66 L37.3 318.39 L38.3 318.1 L39.3 317.78 L40.3 317.43 L41.3 317.07 L42.3 316.68 L43.3 316.27 L44.3 315.83 L45.3 315.38 L46.3 314.91 L47.3 314.42 L48.3 313.92 L49.3 313.4 L50.3 312.87 L51.3 312.32 L52.3 311.76 L52.41 311.69 L53.3 311.19 L54.3 310.6 L55.3 310.01 L56.3 309.41 L57.3 308.79 L58.3 308.17 L59.3 307.54 L60.3 306.91 L61.3 306.26 L62.3 305.61 L63.3 304.95 L64.3 304.29 L65.3 303.62 L66.3 302.95 L67.3 302.27 L68.3 301.59 L69.3 300.91 L70.3 300.22 L71.21 299.59 L71.3 299.53 L72.3 298.84 L73.3 298.15 L74.3 297.46 L75.3 296.77 L76.3 296.08 L77.3 295.38 L78.3 294.69 L79.3 294 L80.3 293.3 L81.3 292.61 L82.3 291.92 L83.3 291.23 L84.3 290.53 L85.3 289.84 L86.3 289.16 L87.3 288.47 L88.3 287.79 L89.3 287.1 L90.01 286.62 L90.3 286.42 L91.3 285.75 L92.3 285.07 L93.3 284.4 L94.3 283.73 L95.3 283.06 L96.3 282.4 L97.3 281.74 L98.3 281.09 L99.3 280.44 L100.3 279.8 L101.3 279.16 L102.3 278.53 L103.3 277.9 L104.3 277.28 L105.3 276.66 L106.3 276.05 L107.3 275.45 L108.3 274.85 L108.37 274.81 L109.3 274.26 L110.3 273.68 L111.3 273.11 L112.3 272.54 L113.3 271.98 L114.3 271.42 L115.3 270.88 L116.3 270.33 L117.3 269.8 L118.3 269.27 L119.3 268.75 L120.3 268.24 L121.3 267.73 L122.3 267.23 L123.3 266.73 L124.3 266.24 L125.3 265.76 L126.3 265.28 L127.3 264.81 L128.3 264.35 L129.3 263.89 L130.3 263.43 L131.3 262.99 L132.3 262.54 L132.93 262.27 L133.3 262.11 L134.3 261.68 L135.3 261.25 L136.3 260.83 L137.3 260.41 L138.3 260.01 L139.3 259.6 L140.3 259.2 L141.3 258.81 L142.3 258.42 L143.3 258.04 L144.3 257.67 L145.3 257.3 L146.3 256.93 L147.3 256.57 L148.3 256.22 L149.3 255.87 L150.3 255.53 L151.3 255.2 L152.3 254.86 L153.3 254.54 L154.3 254.22 L155.3 253.91 L156.3 253.6 L157.04 253.37 L157.3 253.3 L158.3 253 L159.3 252.71 L160.3 252.42 L161.3 252.14 L162.3 251.87 L163.3 251.6 L164.3 251.33 L165.3 251.07 L166.3 250.82 L167.3 250.57 L168.3 250.32 L169.3 250.08 L170.3 249.84 L171.3 249.61 L172.3 249.38 L173.3 249.16 L174.3 248.94 L175.3 248.72 L176.3 248.51 L177.3 248.3 L178.3 248.09 L179.3 247.89 L180.3 247.69 L181.3 247.5 L182.3 247.31 L183.3 247.12 L184.3 246.93 L185.3 246.75 L186.3 246.57 L187.3 246.39 L188.23 246.23 L188.3 246.22 L189.3 246.05 L190.3 245.88 L191.3 245.71 L192.3 245.54 L193.3 245.38 L194.3 245.22 L195.3 245.06 L196.3 244.91 L197.3 244.76 L198.3 244.61 L199.3 244.46 L200.3 244.32 L201.3 244.18 L202.3 244.04 L203.3 243.9 L204.3 243.77 L205.3 243.64 L206.3 243.51 L207.3 243.39 L208.3 243.26 L209.3 243.15 L210.3 243.03 L211.3 242.92 L212.3 242.81 L213.3 242.7 L214.3 242.6 L215.3 242.49 L216.3 242.4 L217.3 242.3 L218.3 242.21 L218.97 242.15 L219.3 242.12 L220.3 242.03 L221.3 241.95 L222.3 241.87 L223.3 241.79 L224.3 241.72 L225.3 241.65 L226.3 241.58 L227.3 241.52 L228.3 241.46 L229.3 241.4 L230.3 241.35 L231.3 241.3 L232.3 241.25 L233.3 241.21 L234.3 241.17 L235.3 241.13 L236.3 241.1 L237.3 241.07 L238.3 241.04 L239.3 241.02 L240.3 241 L241.3 240.98 L242.3 240.97 L243.3 240.96 L244.3 240.95 L245.3 240.95 L246.3 240.95 L247.3 240.96 L248.3 240.97 L249.3 240.98 L249.5 240.98" fill="none" stroke="#D95319" stroke-width="1.15" stroke-dasharray="2.8 0.7 0.9 0.7" stroke-linejoin="round"/>
<rect x="50.26" y="309.54" width="4.3" height="4.3" fill="#D95319"/>
<rect x="69.06" y="297.44" width="4.3" height="4.3" fill="#D95319"/>
<rect x="87.86" y="284.47" width="4.3" height="4.3" fill="#D95319"/>
<rect x="106.22" y="272.66" width="4.3" height="4.3" fill="#D95319"/>
<rect x="130.78" y="260.12" width="4.3" height="4.3" fill="#D95319"/>
<rect x="154.89" y="251.22" width="4.3" height="4.3" fill="#D95319"/>
<rect x="186.08" y="244.08" width="4.3" height="4.3" fill="#D95319"/>
<rect x="216.82" y="240" width="4.3" height="4.3" fill="#D95319"/>
<rect x="247.35" y="238.83" width="4.3" height="4.3" fill="#D95319"/>
<path d="M28.3 319.71 L29.3 319.7 L30.3 319.65 L31.3 319.57 L32.3 319.47 L33.3 319.33 L34.3 319.17 L35.3 318.98 L36.3 318.77 L37.3 318.54 L38.3 318.28 L39.3 318 L40.3 317.7 L41.3 317.38 L42.3 317.04 L43.3 316.69 L44.3 316.32 L45.3 315.93 L46.3 315.53 L47.3 315.12 L48.3 314.7 L49.3 314.27 L50.3 313.82 L51.3 313.37 L52.3 312.91 L52.41 312.86 L53.3 312.45 L54.3 311.98 L55.3 311.5 L56.3 311.02 L57.3 310.53 L58.3 310.03 L59.3 309.54 L60.3 309.03 L61.3 308.52 L62.3 308.01 L63.3 307.49 L64.3 306.97 L65.3 306.44 L66.3 305.91 L67.3 305.37 L68.3 304.83 L69.3 304.29 L70.3 303.74 L71.21 303.24 L71.3 303.19 L72.3 302.64 L73.3 302.08 L74.3 301.52 L75.3 300.95 L76.3 300.39 L77.3 299.82 L78.3 299.25 L79.3 298.68 L80.3 298.11 L81.3 297.54 L82.3 296.97 L83.3 296.4 L84.3 295.83 L85.3 295.26 L86.3 294.69 L87.3 294.12 L88.3 293.56 L89.3 293 L90.01 292.59 L90.3 292.44 L91.3 291.88 L92.3 291.32 L93.3 290.77 L94.3 290.22 L95.3 289.68 L96.3 289.14 L97.3 288.6 L98.3 288.07 L99.3 287.54 L100.3 287.01 L101.3 286.49 L102.3 285.98 L103.3 285.47 L104.3 284.97 L105.3 284.47 L106.3 283.97 L107.3 283.49 L108.3 283.01 L108.37 282.97 L109.3 282.53 L110.3 282.07 L111.3 281.6 L112.3 281.15 L113.3 280.7 L114.3 280.25 L115.3 279.82 L116.3 279.38 L117.3 278.96 L118.3 278.53 L119.3 278.12 L120.3 277.71 L121.3 277.3 L122.3 276.9 L123.3 276.5 L124.3 276.11 L125.3 275.72 L126.3 275.34 L127.3 274.96 L128.3 274.59 L129.3 274.22 L130.3 273.85 L131.3 273.49 L132.3 273.13 L132.93 272.91 L133.3 272.78 L134.3 272.43 L135.3 272.08 L136.3 271.74 L137.3 271.4 L138.3 271.07 L139.3 270.74 L140.3 270.41 L141.3 270.09 L142.3 269.77 L143.3 269.46 L144.3 269.15 L145.3 268.84 L146.3 268.54 L147.3 268.25 L148.3 267.96 L149.3 267.67 L150.3 267.39 L151.3 267.11 L152.3 266.84 L153.3 266.57 L154.3 266.31 L155.3 266.06 L156.3 265.8 L157.04 265.62 L157.3 265.56 L158.3 265.32 L159.3 265.08 L160.3 264.85 L161.3 264.63 L162.3 264.4 L163.3 264.19 L164.3 263.98 L165.3 263.77 L166.3 263.57 L167.3 263.37 L168.3 263.17 L169.3 262.98 L170.3 262.79 L171.3 262.61 L172.3 262.43 L173.3 262.25 L174.3 262.08 L175.3 261.91 L176.3 261.74 L177.3 261.58 L178.3 261.42 L179.3 261.26 L180.3 261.1 L181.3 260.95 L182.3 260.8 L183.3 260.65 L184.3 260.5 L185.3 260.35 L186.3 260.21 L187.3 260.07 L188.23 259.94 L188.3 259.93 L189.3 259.79 L190.3 259.65 L191.3 259.51 L192.3 259.38 L193.3 259.24 L194.3 259.11 L195.3 258.98 L196.3 258.85 L197.3 258.72 L198.3 258.6 L199.3 258.47 L200.3 258.35 L201.3 258.23 L202.3 258.11 L203.3 257.99 L204.3 257.88 L205.3 257.77 L206.3 257.66 L207.3 257.55 L208.3 257.44 L209.3 257.33 L210.3 257.23 L211.3 257.13 L212.3 257.03 L213.3 256.94 L214.3 256.84 L215.3 256.75 L216.3 256.66 L217.3 256.58 L218.3 256.49 L218.97 256.44 L219.3 256.41 L220.3 256.33 L221.3 256.25 L222.3 256.18 L223.3 256.11 L224.3 256.04 L225.3 255.97 L226.3 255.91 L227.3 255.85 L228.3 255.79 L229.3 255.73 L230.3 255.68 L231.3 255.63 L232.3 255.58 L233.3 255.54 L234.3 255.5 L235.3 255.46 L236.3 255.43 L237.3 255.39 L238.3 255.37 L239.3 255.34 L240.3 255.32 L241.3 255.3 L242.3 255.28 L243.3 255.27 L244.3 255.26 L245.3 255.26 L246.3 255.25 L247.3 255.26 L248.3 255.26 L249.3 255.27 L249.5 255.27" fill="none" stroke="#000000" stroke-width="1.1" stroke-dasharray="4 1" stroke-linejoin="round"/>
<circle cx="52.41" cy="312.86" r="2.55" fill="#000000"/>
<circle cx="71.21" cy="303.24" r="2.55" fill="#000000"/>
<circle cx="90.01" cy="292.59" r="2.55" fill="#000000"/>
<circle cx="108.37" cy="282.97" r="2.55" fill="#000000"/>
<circle cx="132.93" cy="272.91" r="2.55" fill="#000000"/>
<circle cx="157.04" cy="265.62" r="2.55" fill="#000000"/>
<circle cx="188.23" cy="259.94" r="2.55" fill="#000000"/>
<circle cx="218.97" cy="256.44" r="2.55" fill="#000000"/>
<circle cx="249.5" cy="255.27" r="2.55" fill="#000000"/>
<path d="M28.3 319.71 L29.3 319.7 L30.3 319.66 L31.3 319.59 L32.3 319.5 L33.3 319.39 L34.3 319.25 L35.3 319.09 L36.3 318.91 L37.3 318.71 L38.3 318.49 L39.3 318.26 L40.3 318 L41.3 317.74 L42.3 317.46 L43.3 317.16 L44.3 316.85 L45.3 316.53 L46.3 316.2 L47.3 315.86 L48.3 315.52 L49.3 315.16 L50.3 314.8 L51.3 314.44 L52.3 314.07 L52.41 314.03 L53.3 313.7 L54.3 313.32 L55.3 312.94 L56.3 312.56 L57.3 312.17 L58.3 311.79 L59.3 311.39 L60.3 311 L61.3 310.6 L62.3 310.2 L63.3 309.79 L64.3 309.38 L65.3 308.97 L66.3 308.55 L67.3 308.13 L68.3 307.71 L69.3 307.28 L70.3 306.84 L71.21 306.45 L71.3 306.41 L72.3 305.97 L73.3 305.52 L74.3 305.07 L75.3 304.62 L76.3 304.17 L77.3 303.72 L78.3 303.26 L79.3 302.8 L80.3 302.35 L81.3 301.89 L82.3 301.43 L83.3 300.98 L84.3 300.52 L85.3 300.07 L86.3 299.63 L87.3 299.18 L88.3 298.74 L89.3 298.3 L90.01 297.99 L90.3 297.87 L91.3 297.44 L92.3 297.01 L93.3 296.59 L94.3 296.18 L95.3 295.76 L96.3 295.36 L97.3 294.95 L98.3 294.54 L99.3 294.14 L100.3 293.74 L101.3 293.35 L102.3 292.95 L103.3 292.55 L104.3 292.16 L105.3 291.77 L106.3 291.37 L107.3 290.98 L108.3 290.58 L108.37 290.55 L109.3 290.19 L110.3 289.79 L111.3 289.4 L112.3 289 L113.3 288.6 L114.3 288.21 L115.3 287.82 L116.3 287.42 L117.3 287.03 L118.3 286.64 L119.3 286.26 L120.3 285.87 L121.3 285.49 L122.3 285.11 L123.3 284.74 L124.3 284.37 L125.3 284 L126.3 283.64 L127.3 283.28 L128.3 282.93 L129.3 282.58 L130.3 282.24 L131.3 281.9 L132.3 281.57 L132.93 281.37 L133.3 281.25 L134.3 280.93 L135.3 280.62 L136.3 280.32 L137.3 280.02 L138.3 279.73 L139.3 279.44 L140.3 279.16 L141.3 278.89 L142.3 278.62 L143.3 278.36 L144.3 278.1 L145.3 277.85 L146.3 277.6 L147.3 277.36 L148.3 277.12 L149.3 276.89 L150.3 276.66 L151.3 276.44 L152.3 276.22 L153.3 276.01 L154.3 275.8 L155.3 275.59 L156.3 275.39 L157.04 275.24 L157.3 275.19 L158.3 275 L159.3 274.81 L160.3 274.62 L161.3 274.44 L162.3 274.26 L163.3 274.08 L164.3 273.91 L165.3 273.74 L166.3 273.57 L167.3 273.4 L168.3 273.24 L169.3 273.09 L170.3 272.93 L171.3 272.78 L172.3 272.63 L173.3 272.48 L174.3 272.34 L175.3 272.2 L176.3 272.06 L177.3 271.92 L178.3 271.79 L179.3 271.66 L180.3 271.53 L181.3 271.4 L182.3 271.28 L183.3 271.15 L184.3 271.03 L185.3 270.91 L186.3 270.8 L187.3 270.68 L188.23 270.58 L188.3 270.57 L189.3 270.46 L190.3 270.35 L191.3 270.24 L192.3 270.14 L193.3 270.03 L194.3 269.93 L195.3 269.83 L196.3 269.73 L197.3 269.63 L198.3 269.54 L199.3 269.45 L200.3 269.35 L201.3 269.26 L202.3 269.18 L203.3 269.09 L204.3 269 L205.3 268.92 L206.3 268.84 L207.3 268.76 L208.3 268.68 L209.3 268.6 L210.3 268.53 L211.3 268.46 L212.3 268.39 L213.3 268.32 L214.3 268.25 L215.3 268.18 L216.3 268.12 L217.3 268.06 L218.3 267.99 L218.97 267.95 L219.3 267.94 L220.3 267.88 L221.3 267.82 L222.3 267.77 L223.3 267.72 L224.3 267.66 L225.3 267.62 L226.3 267.57 L227.3 267.52 L228.3 267.48 L229.3 267.44 L230.3 267.39 L231.3 267.36 L232.3 267.32 L233.3 267.28 L234.3 267.25 L235.3 267.22 L236.3 267.19 L237.3 267.16 L238.3 267.13 L239.3 267.1 L240.3 267.08 L241.3 267.06 L242.3 267.04 L243.3 267.02 L244.3 267 L245.3 266.98 L246.3 266.97 L247.3 266.96 L248.3 266.95 L249.3 266.94 L249.5 266.93" fill="none" stroke="#0072BD" stroke-width="1.25" stroke-linejoin="round"/>
<path d="M52.41 311.33 L55.36 315.93 L49.46 315.93 Z" fill="#0072BD"/>
<path d="M71.21 303.75 L74.16 308.35 L68.26 308.35 Z" fill="#0072BD"/>
<path d="M90.01 295.29 L92.96 299.89 L87.06 299.89 Z" fill="#0072BD"/>
<path d="M108.37 287.85 L111.32 292.45 L105.42 292.45 Z" fill="#0072BD"/>
<path d="M132.93 278.67 L135.88 283.27 L129.98 283.27 Z" fill="#0072BD"/>
<path d="M157.04 272.54 L159.99 277.14 L154.09 277.14 Z" fill="#0072BD"/>
<path d="M188.23 267.88 L191.18 272.48 L185.28 272.48 Z" fill="#0072BD"/>
<path d="M218.97 265.25 L221.92 269.85 L216.02 269.85 Z" fill="#0072BD"/>
<path d="M249.5 264.23 L252.45 268.83 L246.55 268.83 Z" fill="#0072BD"/>
<text transform="translate(9.9 306.6) rotate(-90)" font-size="12.7" text-anchor="middle" textLength="87.5" lengthAdjust="spacingAndGlyphs">Frequency (GHz)</text>
<text x="139.4" y="406" font-size="12.7" text-anchor="middle" textLength="22.5" lengthAdjust="spacingAndGlyphs">βp/π</text>
<text x="123" y="434.4" font-size="16.5" text-anchor="middle" textLength="17.3" lengthAdjust="spacingAndGlyphs" stroke-width="0">(c)</text>
<path d="M302.7 233.1 V379.9 H526.3" fill="none" stroke="#555555" stroke-width="1"/>
<path d="M302.7 379.9 v-2.2 M330.65 379.9 v-2.2 M358.6 379.9 v-2.2 M386.55 379.9 v-2.2 M414.5 379.9 v-2.2 M442.45 379.9 v-2.2 M470.4 379.9 v-2.2 M498.35 379.9 v-2.2 M526.3 379.9 v-2.2 M302.7 379.9 h2.2 M302.7 355.43 h2.2 M302.7 330.97 h2.2 M302.7 306.5 h2.2 M302.7 282.03 h2.2 M302.7 257.57 h2.2 M302.7 233.1 h2.2" fill="none" stroke="#555555" stroke-width="0.8"/>
<text x="302.7" y="392.5" font-size="12.7" text-anchor="middle">2</text>
<text x="330.65" y="392.5" font-size="12.7" text-anchor="middle">3</text>
<text x="358.6" y="392.5" font-size="12.7" text-anchor="middle">4</text>
<text x="386.55" y="392.5" font-size="12.7" text-anchor="middle">5</text>
<text x="414.5" y="392.5" font-size="12.7" text-anchor="middle">6</text>
<text x="442.45" y="392.5" font-size="12.7" text-anchor="middle">7</text>
<text x="470.4" y="392.5" font-size="12.7" text-anchor="middle">8</text>
<text x="498.35" y="392.5" font-size="12.7" text-anchor="middle">9</text>
<text x="526.3" y="392.5" font-size="12.7" text-anchor="middle">10</text>
<text x="301.1" y="384.7" font-size="12.7" text-anchor="end">-60</text>
<text x="301.1" y="360.23" font-size="12.7" text-anchor="end">-50</text>
<text x="301.1" y="335.77" font-size="12.7" text-anchor="end">-40</text>
<text x="301.1" y="311.3" font-size="12.7" text-anchor="end">-30</text>
<text x="301.1" y="286.83" font-size="12.7" text-anchor="end">-20</text>
<text x="301.1" y="262.37" font-size="12.7" text-anchor="end">-10</text>
<text x="301.1" y="237.9" font-size="12.7" text-anchor="end">0</text>
<path d="M314.44 379.9 L315.27 379.32 L316.08 378.71 L316.85 378.07 L317.51 377.45 L317.57 377.4 L318.25 376.68 L318.9 375.93 L319.53 375.15 L320.13 374.34 L320.73 373.52 L321.32 372.7 L321.9 371.87 L322.49 371.05 L322.82 370.6 L323.09 370.25 L323.72 369.45 L324.35 368.65 L324.97 367.85 L325.57 367.05 L326.13 366.22 L326.65 365.38 L326.74 365.22 L327.11 364.52 L327.56 363.64 L327.99 362.75 L328.41 361.84 L328.81 360.93 L329.2 360 L329.58 359.07 L329.95 358.13 L330.3 357.18 L330.65 356.23 L331 355.28 L331.34 354.32 L331.67 353.36 L332 352.4 L332.33 351.45 L332.65 350.49 L332.98 349.54 L333.06 349.32 L333.31 348.6 L333.63 347.65 L333.96 346.7 L334.29 345.75 L334.61 344.8 L334.93 343.85 L335.25 342.9 L335.57 341.94 L335.89 340.99 L336.2 340.03 L336.51 339.07 L336.81 338.11 L337.11 337.15 L337.41 336.19 L337.69 335.22 L337.98 334.26 L338.25 333.29 L338.52 332.33 L338.78 331.36 L339.04 330.39 L339.28 329.42 L339.52 328.44 L339.75 327.47 L339.97 326.5 L340.06 326.07 L340.18 325.52 L340.38 324.54 L340.56 323.56 L340.75 322.57 L340.92 321.59 L341.09 320.6 L341.25 319.61 L341.41 318.62 L341.57 317.62 L341.72 316.63 L341.88 315.64 L342.03 314.64 L342.19 313.65 L342.35 312.66 L342.52 311.67 L342.69 310.68 L342.78 310.17 L342.86 309.69 L343.04 308.7 L343.22 307.71 L343.4 306.73 L343.58 305.74 L343.76 304.75 L343.95 303.77 L344.13 302.78 L344.31 301.79 L344.5 300.81 L344.69 299.82 L344.87 298.84 L345.06 297.85 L345.25 296.86 L345.44 295.88 L345.63 294.89 L345.82 293.91 L346.01 292.92 L346.2 291.94 L346.39 290.95 L346.58 289.97 L346.78 288.98 L346.97 288 L347.17 287.01 L347.36 286.03 L347.55 285.05 L347.57 284.97 L347.75 284.06 L347.94 283.08 L348.14 282.09 L348.34 281.11 L348.54 280.13 L348.74 279.14 L348.94 278.16 L349.14 277.18 L349.34 276.19 L349.54 275.21 L349.74 274.23 L349.95 273.24 L350.15 272.26 L350.35 271.28 L350.56 270.3 L350.77 269.32 L350.97 268.33 L351.18 267.35 L351.39 266.37 L351.44 266.13 L351.6 265.39 L351.81 264.41 L352.01 263.43 L352.22 262.44 L352.43 261.46 L352.64 260.48 L352.85 259.5 L353.06 258.52 L353.27 257.54 L353.49 256.56 L353.71 255.58 L353.94 254.6 L354.17 253.63 L354.41 252.67 L354.41 252.65 L354.65 251.67 L354.88 250.69 L355.13 249.71 L355.38 248.74 L355.67 247.78 L355.98 246.83 L356.08 246.56 L356.34 245.88 L356.77 244.89 L357.29 244.06 L357.48 243.87 L358 243.5 L358.96 243.06 L359.72 242.89 L359.95 242.86 L360.94 242.77 L361.95 242.71 L362.96 242.67 L363.63 242.64 L363.97 242.63 L364.97 242.59 L365.98 242.56 L366.98 242.53 L367.98 242.5 L368.98 242.48 L369.99 242.45 L370.99 242.43 L371.99 242.4 L372.02 242.4 L373 242.36 L374 242.33 L375 242.29 L376.01 242.24 L377.01 242.2 L378.01 242.15 L379.01 242.11 L380.02 242.07 L381.02 242.03 L382.02 241.99 L383.03 241.96 L384.03 241.94 L385.03 241.92 L386.03 241.91 L386.55 241.91 L387.04 241.91 L388.04 241.91 L389.04 241.91 L390.05 241.91 L391.05 241.92 L392.05 241.92 L393.06 241.93 L394.06 241.94 L395.06 241.94 L396.07 241.95 L397.07 241.96 L398.07 241.97 L399.08 241.98 L400.08 241.99 L401.08 242 L402.09 242.01 L403.09 242.02 L404.09 242.03 L405.1 242.04 L406.1 242.06 L407.1 242.07 L408.11 242.08 L409.11 242.09 L410.11 242.1 L411.12 242.12 L412.12 242.13 L413.13 242.14 L414.13 242.15 L414.5 242.15 L415.13 242.16 L416.14 242.17 L417.14 242.18 L418.14 242.19 L419.15 242.2 L420.15 242.21 L421.15 242.22 L422.16 242.24 L423.16 242.25 L424.16 242.26 L425.17 242.27 L426.17 242.28 L427.17 242.29 L428.18 242.31 L429.18 242.32 L430.18 242.33 L431.19 242.34 L432.19 242.36 L433.19 242.37 L434.2 242.39 L435.2 242.4 L436.2 242.42 L437.21 242.43 L438.21 242.45 L439.21 242.46 L440.22 242.48 L441.22 242.5 L442.22 242.52 L442.45 242.52 L443.22 242.53 L444.23 242.55 L445.23 242.57 L446.23 242.6 L447.24 242.62 L448.24 242.64 L449.24 242.66 L450.25 242.69 L451.25 242.72 L452.25 242.74 L453.26 242.77 L454.26 242.8 L455.26 242.83 L456.27 242.86 L457.27 242.89 L458.27 242.93 L459.27 242.96 L460.28 243 L460.62 243.01 L461.28 243.03 L462.28 243.07 L463.28 243.11 L464.29 243.16 L465.29 243.2 L466.29 243.25 L467.29 243.3 L468.3 243.35 L469.3 243.41 L470.3 243.46 L471.3 243.52 L472.3 243.58 L473.31 243.64 L474.31 243.7 L475.31 243.76 L476.31 243.82 L477.31 243.89 L478.31 243.96 L478.78 243.99 L479.31 244.02 L480.32 244.09 L481.32 244.15 L482.33 244.21 L483.34 244.28 L484.35 244.34 L485.35 244.42 L486.36 244.5 L487.36 244.58 L488.36 244.68 L489.35 244.79 L490.34 244.91 L491.32 245.04 L491.64 245.09 L492.3 245.21 L493.31 245.45 L494.29 245.76 L495.21 246.14 L495.55 246.31 L496.03 246.62 L496.81 247.32 L497.43 248.13 L497.51 248.27 L497.85 248.98 L498.2 249.94 L498.47 250.94 L498.63 251.69 L498.67 251.92 L498.83 252.9 L498.97 253.89 L499.09 254.89 L499.2 255.89 L499.29 256.9 L499.39 257.9 L499.47 258.79 L499.48 258.9 L499.57 259.9 L499.66 260.9 L499.74 261.9 L499.82 262.9 L499.89 263.9 L499.97 264.9 L500.04 265.9 L500.11 266.9 L500.18 267.9 L500.24 268.9 L500.31 269.91 L500.37 270.91 L500.44 271.91 L500.5 272.91 L500.57 273.91 L500.63 274.91 L500.7 275.92 L500.76 276.92 L500.83 277.92 L500.91 278.92 L500.98 279.92 L501.06 280.92 L501.14 281.92 L501.14 282.03 L501.22 282.92 L501.3 283.92 L501.39 284.92 L501.47 285.92 L501.56 286.92 L501.64 287.92 L501.73 288.92 L501.82 289.92 L501.91 290.92 L502 291.92 L502.09 292.92 L502.19 293.92 L502.28 294.92 L502.38 295.92 L502.47 296.91 L502.57 297.91 L502.67 298.91 L502.77 299.91 L502.87 300.91 L502.97 301.91 L503.07 302.91 L503.17 303.9 L503.28 304.9 L503.38 305.9 L503.49 306.9 L503.6 307.89 L503.66 308.46 L503.71 308.89 L503.82 309.89 L503.93 310.89 L504.04 311.88 L504.15 312.88 L504.26 313.88 L504.37 314.88 L504.48 315.87 L504.59 316.87 L504.71 317.87 L504.82 318.87 L504.93 319.87 L505.05 320.86 L505.16 321.86 L505.28 322.86 L505.4 323.86 L505.52 324.85 L505.64 325.85 L505.76 326.85 L505.88 327.85 L506 328.84 L506.13 329.84 L506.25 330.84 L506.38 331.83 L506.51 332.83 L506.64 333.83 L506.77 334.82 L506.9 335.82 L507.04 336.81 L507.17 337.81 L507.31 338.8 L507.45 339.8 L507.59 340.79 L507.73 341.78 L507.87 342.78 L508.02 343.77 L508.17 344.76 L508.32 345.75 L508.47 346.74 L508.62 347.73 L508.78 348.72 L508.94 349.71 L509.1 350.7 L509.26 351.69 L509.42 352.68 L509.59 353.66 L509.76 354.65 L509.81 354.94 L509.93 355.64 L510.11 356.62 L510.3 357.61 L510.49 358.59 L510.7 359.58 L510.9 360.56 L511.12 361.54 L511.34 362.52 L511.56 363.5 L511.79 364.48 L512.02 365.46 L512.26 366.43 L512.51 367.4 L512.75 368.38 L512.88 368.89 L513 369.35 L513.26 370.31 L513.53 371.28 L513.8 372.24 L514.08 373.21 L514.37 374.17 L514.67 375.13 L514.97 376.08 L515.28 377.04 L515.59 378 L515.91 378.95 L516.24 379.9" fill="none" stroke="#D95319" stroke-width="1.15" stroke-dasharray="2.8 0.7 0.9 0.7" clip-path="url(#cd)" stroke-linejoin="round"/>
<rect x="321.51" y="367.72" width="4.3" height="4.3" fill="#D95319"/>
<rect x="375.46" y="240" width="4.3" height="4.3" fill="#D95319"/>
<rect x="458.47" y="241.23" width="4.3" height="4.3" fill="#D95319"/>
<rect x="489.49" y="242.94" width="4.3" height="4.3" fill="#D95319"/>
<rect x="507.66" y="352.79" width="4.3" height="4.3" fill="#D95319"/>
<path d="M316.4 379.9 L317.23 379.32 L318.03 378.71 L318.8 378.07 L319.47 377.45 L319.53 377.4 L320.21 376.68 L320.86 375.93 L321.48 375.15 L322.09 374.35 L322.68 373.53 L323.27 372.7 L323.85 371.88 L324.44 371.06 L324.78 370.6 L325.05 370.25 L325.67 369.46 L326.3 368.66 L326.92 367.86 L327.52 367.06 L328.09 366.23 L328.6 365.39 L328.69 365.22 L329.06 364.53 L329.5 363.65 L329.92 362.75 L330.33 361.85 L330.73 360.93 L331.11 360 L331.48 359.07 L331.84 358.12 L332.19 357.17 L332.53 356.22 L332.86 355.26 L333.19 354.3 L333.51 353.34 L333.83 352.38 L334.15 351.42 L334.46 350.46 L334.78 349.51 L334.84 349.32 L335.09 348.56 L335.41 347.61 L335.73 346.66 L336.04 345.71 L336.36 344.75 L336.67 343.8 L336.98 342.84 L337.29 341.89 L337.59 340.93 L337.89 339.97 L338.19 339 L338.48 338.04 L338.77 337.08 L339.05 336.11 L339.33 335.15 L339.6 334.18 L339.86 333.21 L340.12 332.24 L340.37 331.27 L340.61 330.3 L340.84 329.32 L341.06 328.35 L341.28 327.37 L341.48 326.4 L341.55 326.07 L341.68 325.42 L341.86 324.44 L342.04 323.45 L342.21 322.47 L342.37 321.48 L342.52 320.49 L342.67 319.5 L342.82 318.5 L342.96 317.51 L343.11 316.51 L343.25 315.52 L343.39 314.53 L343.54 313.53 L343.69 312.54 L343.84 311.55 L344 310.56 L344.07 310.17 L344.17 309.57 L344.33 308.58 L344.5 307.59 L344.67 306.6 L344.84 305.61 L345.01 304.62 L345.18 303.64 L345.35 302.65 L345.52 301.66 L345.69 300.67 L345.87 299.68 L346.04 298.7 L346.22 297.71 L346.39 296.72 L346.57 295.74 L346.75 294.75 L346.93 293.76 L347.11 292.78 L347.28 291.79 L347.46 290.8 L347.65 289.82 L347.83 288.83 L348.01 287.84 L348.19 286.86 L348.37 285.87 L348.54 284.97 L348.55 284.89 L348.74 283.9 L348.92 282.91 L349.1 281.93 L349.29 280.94 L349.48 279.96 L349.66 278.97 L349.85 277.99 L350.04 277 L350.23 276.02 L350.42 275.03 L350.61 274.05 L350.8 273.06 L350.99 272.08 L351.19 271.1 L351.38 270.11 L351.57 269.13 L351.77 268.15 L351.97 267.16 L352.16 266.18 L352.17 266.13 L352.36 265.2 L352.55 264.21 L352.75 263.23 L352.94 262.24 L353.13 261.26 L353.33 260.27 L353.52 259.29 L353.72 258.31 L353.93 257.33 L354.14 256.34 L354.35 255.36 L354.57 254.39 L354.79 253.41 L354.97 252.67 L355.02 252.44 L355.26 251.46 L355.49 250.48 L355.74 249.5 L356 248.53 L356.29 247.57 L356.61 246.63 L356.64 246.56 L356.99 245.66 L357.43 244.69 L357.98 243.93 L358.04 243.87 L358.75 243.39 L359.74 243 L360.28 242.89 L360.72 242.84 L361.71 242.76 L362.72 242.7 L363.74 242.66 L364.19 242.64 L364.74 242.62 L365.74 242.58 L366.74 242.54 L367.75 242.5 L368.75 242.46 L369.75 242.44 L370.75 242.41 L371.76 242.4 L372.57 242.4 L372.76 242.4 L373.76 242.4 L374.76 242.41 L375.77 242.42 L376.77 242.44 L377.77 242.46 L378.77 242.48 L379.78 242.5 L380.78 242.52 L381.78 242.54 L382.78 242.57 L383.79 242.59 L384.79 242.61 L385.79 242.63 L386.55 242.64 L386.79 242.65 L387.8 242.66 L388.8 242.68 L389.8 242.69 L390.8 242.7 L391.81 242.72 L392.81 242.73 L393.81 242.74 L394.81 242.75 L395.82 242.77 L396.82 242.78 L397.82 242.79 L398.83 242.8 L399.83 242.81 L400.83 242.83 L401.83 242.84 L402.84 242.85 L403.84 242.86 L404.84 242.88 L405.84 242.89 L406.85 242.9 L407.85 242.91 L408.85 242.93 L409.85 242.94 L410.86 242.95 L411.86 242.97 L412.86 242.98 L413.86 243 L414.5 243.01 L414.87 243.01 L415.87 243.03 L416.87 243.05 L417.87 243.06 L418.88 243.08 L419.88 243.1 L420.88 243.11 L421.89 243.13 L422.89 243.15 L423.89 243.17 L424.89 243.19 L425.9 243.21 L426.9 243.23 L427.9 243.25 L428.9 243.27 L429.91 243.29 L430.91 243.32 L431.91 243.34 L432.91 243.37 L433.23 243.38 L433.91 243.39 L434.92 243.42 L435.92 243.45 L436.92 243.48 L437.92 243.52 L438.93 243.55 L439.93 243.58 L440.93 243.62 L441.94 243.66 L442.94 243.7 L443.94 243.75 L444.94 243.79 L445.94 243.84 L446.94 243.89 L447.95 243.94 L448.95 244 L449.95 244.06 L450.83 244.11 L450.94 244.12 L451.95 244.18 L452.95 244.26 L453.95 244.34 L454.95 244.43 L455.95 244.53 L456.95 244.64 L457.95 244.76 L458.95 244.88 L459.94 245.02 L460.93 245.16 L461.91 245.32 L462.01 245.33 L462.9 245.49 L463.9 245.69 L464.9 245.92 L465.89 246.18 L466.86 246.47 L467.81 246.8 L468.71 247.16 L469 247.29 L469.57 247.58 L470.45 248.12 L471.28 248.77 L472.03 249.48 L472.63 250.22 L472.64 250.23 L473.14 251.04 L473.59 251.96 L473.97 252.93 L474.26 253.9 L474.31 254.14 L474.47 254.86 L474.65 255.83 L474.82 256.82 L474.96 257.82 L475.09 258.82 L475.2 259.83 L475.3 260.84 L475.39 261.84 L475.43 262.46 L475.46 262.84 L475.52 263.84 L475.58 264.84 L475.64 265.83 L475.69 266.84 L475.74 267.84 L475.78 268.84 L475.83 269.84 L475.87 270.84 L475.9 271.84 L475.94 272.85 L475.98 273.85 L476.01 274.85 L476.04 275.86 L476.08 276.86 L476.11 277.86 L476.15 278.87 L476.18 279.87 L476.22 280.87 L476.26 281.87 L476.27 282.03 L476.3 282.88 L476.34 283.88 L476.38 284.88 L476.42 285.88 L476.46 286.88 L476.5 287.89 L476.53 288.89 L476.57 289.89 L476.6 290.89 L476.64 291.9 L476.67 292.9 L476.71 293.9 L476.74 294.9 L476.78 295.91 L476.82 296.91 L476.85 297.91 L476.89 298.91 L476.93 299.91 L476.97 300.92 L477.01 301.92 L477.05 302.92 L477.1 303.92 L477.14 304.92 L477.19 305.92 L477.23 306.92 L477.28 307.93 L477.33 308.93 L477.39 309.93 L477.39 309.93 L477.44 310.93 L477.51 311.93 L477.57 312.93 L477.64 313.93 L477.71 314.93 L477.79 315.93 L477.87 316.93 L477.95 317.92 L478.03 318.92 L478.12 319.92 L478.21 320.92 L478.3 321.92 L478.39 322.92 L478.49 323.92 L478.58 324.92 L478.68 325.91 L478.77 326.91 L478.87 327.91 L478.97 328.91 L479.06 329.91 L479.16 330.91 L479.25 331.91 L479.35 332.9 L479.44 333.9 L479.53 334.9 L479.62 335.9 L479.71 336.9 L479.79 337.9 L479.87 338.9 L479.9 339.29 L479.95 339.9 L480.03 340.9 L480.11 341.9 L480.19 342.9 L480.27 343.9 L480.35 344.9 L480.43 345.9 L480.51 346.9 L480.59 347.89 L480.66 348.89 L480.74 349.89 L480.82 350.89 L480.89 351.89 L480.96 352.89 L481.03 353.89 L481.1 354.89 L481.17 355.9 L481.24 356.9 L481.3 357.88 L481.3 357.9 L481.36 358.91 L481.4 359.95 L481.43 361 L481.46 362.06 L481.49 363.11 L481.53 364.14 L481.59 365.15 L481.65 366.12 L481.74 367.04 L481.86 367.91 L481.86 367.91 L482.47 368.81 L482.7 368.89 L483.27 368.65 L484.17 368.01 L484.38 367.91 L485.13 367.65 L486.12 367.43 L486.33 367.42 L486.97 367.62 L487.77 368.29 L488.48 369.16 L488.85 369.62 L489.1 369.95 L489.66 370.77 L490.16 371.64 L490.63 372.55 L491.08 373.46 L491.36 374.03 L491.53 374.36 L491.96 375.26 L492.37 376.17 L492.78 377.09 L493.16 378.02 L493.53 378.95 L493.88 379.9" fill="none" stroke="#000000" stroke-width="1.1" stroke-dasharray="4 1" clip-path="url(#cd)" stroke-linejoin="round"/>
<path d="M506.74 379.9 L507.28 378.95 L507.88 378.04 L508.52 377.18 L509.2 376.35 L509.53 375.99 L509.92 375.56 L510.69 374.76 L511.52 374.05 L512.32 373.54 L512.4 373.5 L513.39 373.05 L514.44 372.69 L515.4 372.56 L515.49 372.56 L516.51 372.74 L517.54 373.13 L518.54 373.63 L519.31 374.03 L519.5 374.13 L520.42 374.66 L521.32 375.27 L522.19 375.92 L523.04 376.6 L523.5 376.96 L523.88 377.27 L524.71 377.96 L525.51 378.67 L526.3 379.41" fill="none" stroke="#000000" stroke-width="1.1" stroke-dasharray="4 1" clip-path="url(#cd)" stroke-linejoin="round"/>
<circle cx="319.47" cy="377.45" r="2.55" fill="#000000"/>
<circle cx="344.07" cy="307.97" r="2.55" fill="#000000"/>
<circle cx="375.37" cy="242.15" r="2.55" fill="#000000"/>
<circle cx="433.23" cy="243.38" r="2.55" fill="#000000"/>
<circle cx="474.31" cy="254.14" r="2.55" fill="#000000"/>
<circle cx="479.9" cy="339.29" r="2.55" fill="#000000"/>
<path d="M317.79 379.9 L318.63 379.32 L319.43 378.71 L320.21 378.07 L320.87 377.45 L320.93 377.39 L321.61 376.67 L322.26 375.92 L322.89 375.14 L323.5 374.33 L324.09 373.51 L324.68 372.68 L325.27 371.85 L325.86 371.03 L326.18 370.6 L326.46 370.23 L327.09 369.43 L327.72 368.63 L328.35 367.83 L328.95 367.02 L329.52 366.2 L330.02 365.35 L330.09 365.22 L330.47 364.48 L330.91 363.6 L331.32 362.7 L331.73 361.79 L332.11 360.86 L332.49 359.93 L332.85 358.99 L333.2 358.04 L333.54 357.08 L333.87 356.12 L334.19 355.15 L334.51 354.19 L334.82 353.22 L335.13 352.25 L335.44 351.29 L335.75 350.33 L336.05 349.37 L336.07 349.32 L336.36 348.41 L336.67 347.46 L336.97 346.5 L337.28 345.54 L337.58 344.58 L337.88 343.62 L338.18 342.66 L338.48 341.7 L338.77 340.73 L339.06 339.76 L339.35 338.8 L339.63 337.83 L339.91 336.86 L340.18 335.89 L340.44 334.92 L340.7 333.94 L340.95 332.97 L341.19 331.99 L341.43 331.01 L341.66 330.04 L341.88 329.06 L342.08 328.08 L342.28 327.1 L342.47 326.12 L342.48 326.07 L342.65 325.13 L342.82 324.14 L342.98 323.16 L343.14 322.16 L343.28 321.17 L343.43 320.17 L343.56 319.18 L343.7 318.18 L343.83 317.18 L343.96 316.18 L344.09 315.18 L344.22 314.19 L344.36 313.19 L344.5 312.19 L344.64 311.19 L344.79 310.2 L344.8 310.17 L344.94 309.21 L345.1 308.21 L345.25 307.22 L345.41 306.23 L345.57 305.24 L345.73 304.24 L345.89 303.25 L346.05 302.26 L346.21 301.27 L346.37 300.27 L346.53 299.28 L346.69 298.29 L346.86 297.3 L347.02 296.31 L347.19 295.31 L347.35 294.32 L347.52 293.33 L347.69 292.34 L347.86 291.35 L348.02 290.36 L348.19 289.37 L348.36 288.38 L348.53 287.39 L348.7 286.4 L348.87 285.4 L348.95 284.97 L349.04 284.41 L349.22 283.42 L349.39 282.43 L349.56 281.44 L349.74 280.45 L349.91 279.46 L350.09 278.47 L350.26 277.48 L350.44 276.5 L350.62 275.51 L350.8 274.52 L350.98 273.53 L351.16 272.54 L351.34 271.55 L351.52 270.56 L351.7 269.57 L351.88 268.58 L352.07 267.6 L352.25 266.61 L352.34 266.13 L352.44 265.62 L352.62 264.63 L352.8 263.64 L352.98 262.65 L353.16 261.66 L353.34 260.67 L353.53 259.68 L353.71 258.69 L353.9 257.71 L354.1 256.72 L354.3 255.74 L354.5 254.75 L354.72 253.77 L354.94 252.79 L354.97 252.67 L355.17 251.81 L355.4 250.83 L355.64 249.85 L355.9 248.87 L356.18 247.91 L356.5 246.96 L356.64 246.56 L356.85 246.01 L357.27 245.01 L357.77 244.15 L358.04 243.87 L358.45 243.57 L359.39 243.11 L360.28 242.89 L360.39 242.87 L361.38 242.78 L362.38 242.72 L363.4 242.67 L364.19 242.64 L364.41 242.63 L365.42 242.59 L366.42 242.55 L367.43 242.51 L368.43 242.47 L369.44 242.44 L370.44 242.42 L371.45 242.4 L372.45 242.4 L372.57 242.4 L373.46 242.4 L374.46 242.41 L375.46 242.41 L376.47 242.43 L377.47 242.44 L378.48 242.46 L379.49 242.48 L380.49 242.5 L381.5 242.53 L382.5 242.55 L383.51 242.57 L384.51 242.6 L385.52 242.62 L386.52 242.64 L386.55 242.64 L387.53 242.66 L388.53 242.68 L389.54 242.71 L390.54 242.73 L391.54 242.75 L392.55 242.78 L393.55 242.81 L394.56 242.83 L395.56 242.86 L396.57 242.89 L397.57 242.91 L398.58 242.94 L399.58 242.97 L400.59 243 L401.59 243.02 L402.6 243.05 L403.6 243.08 L404.61 243.11 L405.61 243.13 L406.62 243.16 L407.62 243.19 L408.63 243.21 L409.63 243.24 L410.64 243.26 L411.64 243.29 L412.65 243.31 L413.65 243.33 L414.66 243.35 L415.66 243.37 L415.9 243.38 L416.67 243.39 L417.67 243.41 L418.68 243.42 L419.68 243.43 L420.69 243.45 L421.69 243.46 L422.7 243.47 L423.7 243.48 L424.71 243.5 L425.72 243.51 L426.72 243.53 L427.73 243.54 L428.73 243.56 L429.73 243.58 L430.74 243.61 L431.27 243.62 L431.74 243.63 L432.75 243.67 L433.77 243.71 L434.79 243.76 L435.81 243.82 L436.82 243.89 L437.84 243.96 L438.85 244.05 L439.85 244.15 L440.84 244.26 L441.82 244.39 L442.79 244.52 L443.29 244.6 L443.74 244.69 L444.69 244.99 L445.62 245.4 L446.54 245.89 L447.42 246.41 L448.04 246.8 L448.26 246.94 L449.1 247.53 L449.91 248.19 L450.6 248.92 L450.83 249.25 L451.12 249.71 L451.57 250.62 L451.94 251.59 L452.21 252.57 L452.23 252.67 L452.39 253.53 L452.54 254.52 L452.67 255.51 L452.78 256.52 L452.87 257.53 L452.96 258.54 L453.04 259.55 L453.07 260.01 L453.11 260.55 L453.18 261.55 L453.25 262.56 L453.31 263.56 L453.37 264.56 L453.42 265.56 L453.47 266.57 L453.52 267.57 L453.57 268.58 L453.62 269.58 L453.66 270.58 L453.71 271.59 L453.75 272.59 L453.79 273.6 L453.83 274.6 L453.88 275.61 L453.92 276.61 L453.97 277.62 L454.01 278.62 L454.06 279.63 L454.11 280.63 L454.17 281.63 L454.19 282.03 L454.22 282.64 L454.28 283.64 L454.34 284.65 L454.39 285.65 L454.45 286.65 L454.51 287.66 L454.57 288.66 L454.63 289.66 L454.69 290.67 L454.76 291.67 L454.82 292.67 L454.88 293.68 L454.95 294.68 L455.01 295.68 L455.08 296.69 L455.15 297.69 L455.22 298.69 L455.29 299.69 L455.31 299.89 L455.37 300.7 L455.45 301.7 L455.53 302.7 L455.61 303.7 L455.7 304.7 L455.79 305.7 L455.88 306.7 L455.96 307.71 L456.05 308.71 L456.13 309.71 L456.15 309.93 L456.21 310.71 L456.28 311.71 L456.36 312.72 L456.43 313.72 L456.5 314.72 L456.57 315.72 L456.64 316.73 L456.71 317.73 L456.78 318.73 L456.84 319.74 L456.91 320.74 L456.98 321.74 L457.05 322.75 L457.11 323.75 L457.18 324.75 L457.25 325.75 L457.32 326.76 L457.39 327.76 L457.47 328.76 L457.54 329.76 L457.61 330.77 L457.69 331.77 L457.77 332.77 L457.82 333.41 L457.85 333.77 L457.93 334.77 L458.01 335.78 L458.09 336.78 L458.17 337.78 L458.25 338.79 L458.34 339.79 L458.42 340.79 L458.51 341.79 L458.6 342.79 L458.7 343.8 L458.8 344.8 L458.9 345.79 L459.01 346.79 L459.12 347.79 L459.22 348.58 L459.25 348.78 L459.38 349.78 L459.52 350.78 L459.67 351.77 L459.84 352.77 L460.02 353.76 L460.21 354.75 L460.41 355.73 L460.62 356.66 L460.63 356.71 L460.86 357.71 L461.13 358.73 L461.43 359.71 L461.79 360.62 L462.01 361.06 L462.24 361.4 L462.87 362.1 L463.65 362.75 L464.52 363.36 L465.42 363.94 L466.21 364.49 L466.26 364.53 L467.12 365.07 L468.03 365.58 L468.92 366.09 L469.76 366.63 L470.4 367.18 L470.47 367.25 L471.1 367.99 L471.67 368.81 L472.2 369.7 L472.7 370.61 L473.16 371.51 L473.19 371.58 L473.61 372.4 L474.04 373.3 L474.46 374.21 L474.86 375.13 L475.24 376.06 L475.61 377 L475.95 377.96 L476.26 378.92 L476.55 379.9" fill="none" stroke="#0072BD" stroke-width="1.25" clip-path="url(#cd)" stroke-linejoin="round"/>
<path d="M483.82 379.9 L483.95 378.88 L484.08 377.85 L484.23 376.83 L484.39 375.81 L484.55 374.8 L484.72 373.78 L484.9 372.77 L484.93 372.56 L485.08 371.75 L485.26 370.73 L485.45 369.7 L485.65 368.69 L485.87 367.68 L486.12 366.69 L486.33 365.95 L486.41 365.72 L486.75 364.74 L487.15 363.76 L487.62 362.81 L488.12 361.9 L488.67 361.06 L488.85 360.82 L489.28 360.26 L489.99 359.44 L490.79 358.69 L491.65 358.11 L492.2 357.88 L492.55 357.78 L493.56 357.54 L494.61 357.4 L495 357.39 L495.61 357.45 L496.6 357.77 L497.57 358.22 L498.35 358.61 L498.49 358.68 L499.38 359.18 L500.23 359.76 L501.07 360.39 L501.89 361.03 L502.54 361.55 L502.7 361.67 L503.5 362.31 L504.29 362.97 L505.08 363.65 L505.85 364.34 L506.61 365.04 L507.36 365.74 L507.57 365.95 L508.09 366.46 L508.82 367.19 L509.54 367.92 L510.26 368.67 L510.96 369.43 L511.66 370.19 L512.35 370.96 L513.02 371.74 L513.69 372.52 L513.72 372.56 L514.35 373.31 L515 374.11 L515.64 374.91 L516.27 375.73 L516.9 376.55 L517.52 377.37 L518.12 378.21 L518.72 379.05 L519.31 379.9" fill="none" stroke="#0072BD" stroke-width="1.25" clip-path="url(#cd)" stroke-linejoin="round"/>
<path d="M328.69 362.52 L331.64 367.12 L325.74 367.12 Z" fill="#0072BD"/>
<path d="M341.55 324.35 L344.5 328.95 L338.6 328.95 Z" fill="#0072BD"/>
<path d="M372.57 239.21 L375.52 243.81 L369.62 243.81 Z" fill="#0072BD"/>
<path d="M415.9 240.43 L418.85 245.03 L412.95 245.03 Z" fill="#0072BD"/>
<path d="M443.29 241.65 L446.24 246.25 L440.34 246.25 Z" fill="#0072BD"/>
<path d="M448.04 244.1 L450.99 248.7 L445.09 248.7 Z" fill="#0072BD"/>
<path d="M470.4 363.74 L473.35 368.34 L467.45 368.34 Z" fill="#0072BD"/>
<path d="M495 354.45 L497.95 359.05 L492.05 359.05 Z" fill="#0072BD"/>
<text transform="translate(280 305.9) rotate(-90)" font-size="12.7" text-anchor="middle" textLength="94.2" lengthAdjust="spacingAndGlyphs">S-parameters (dB)</text>
<text x="414.1" y="405.6" font-size="12.7" text-anchor="middle" textLength="87.7" lengthAdjust="spacingAndGlyphs">Frequency (GHz)</text>
<text x="395.6" y="434.5" font-size="16.5" text-anchor="middle" textLength="18.7" lengthAdjust="spacingAndGlyphs" stroke-width="0">(d)</text>
<path d="M148.4 85.4 h3.6 M158.5 85.4 h3.6" fill="none" stroke="#D95319" stroke-width="1.25"/>
<rect x="152.94" y="83.04" width="4.73" height="4.73" fill="#D95319"/>
<text x="164" y="89.2" font-size="15" font-style="italic" textLength="10.3" lengthAdjust="spacingAndGlyphs">w</text>
<text x="175.1" y="91.9" font-size="12.5" font-style="italic" textLength="5.2" lengthAdjust="spacingAndGlyphs">h</text>
<text x="182.6" y="90.9" font-size="12.7">=</text>
<text x="192.9" y="89.6" font-size="12.7" textLength="6.6" lengthAdjust="spacingAndGlyphs">9</text>
<text x="203.5" y="89.6" font-size="12.7" textLength="19" lengthAdjust="spacingAndGlyphs">mm</text>
<path d="M148.4 105.65 h2.8 M152.7 105.65 h5.3 M159.2 105.65 h2.9" fill="none" stroke="#000000" stroke-width="1.2000000000000002"/>
<circle cx="155.3" cy="105.65" r="2.81" fill="#000000"/>
<text x="164" y="109.45" font-size="15" font-style="italic" textLength="10.3" lengthAdjust="spacingAndGlyphs">w</text>
<text x="175.1" y="112.15" font-size="12.5" font-style="italic" textLength="5.2" lengthAdjust="spacingAndGlyphs">h</text>
<text x="182.6" y="111.15" font-size="12.7">=</text>
<text x="192.9" y="109.85" font-size="12.7" textLength="21.8" lengthAdjust="spacingAndGlyphs">10.4</text>
<text x="219.4" y="109.85" font-size="12.7" textLength="19" lengthAdjust="spacingAndGlyphs">mm</text>
<path d="M148.4 125.9 h13.7" fill="none" stroke="#0072BD" stroke-width="1.35"/>
<path d="M155.3 122.5 L158.69 127.79 L151.91 127.79 Z" fill="#0072BD"/>
<text x="164" y="129.7" font-size="15" font-style="italic" textLength="10.3" lengthAdjust="spacingAndGlyphs">w</text>
<text x="175.1" y="132.4" font-size="12.5" font-style="italic" textLength="5.2" lengthAdjust="spacingAndGlyphs">h</text>
<text x="182.6" y="131.4" font-size="12.7">=</text>
<text x="192.9" y="130.1" font-size="12.7" textLength="12.4" lengthAdjust="spacingAndGlyphs">12</text>
<text x="209.1" y="130.1" font-size="12.7" textLength="19" lengthAdjust="spacingAndGlyphs">mm</text>
<path d="M373.4 90.6 h3.6 M383.5 90.6 h3.6" fill="none" stroke="#D95319" stroke-width="1.25"/>
<rect x="377.93" y="88.23" width="4.73" height="4.73" fill="#D95319"/>
<text x="389" y="94.4" font-size="15" font-style="italic" textLength="10.3" lengthAdjust="spacingAndGlyphs">w</text>
<text x="400.1" y="97.1" font-size="12.5" font-style="italic" textLength="5.2" lengthAdjust="spacingAndGlyphs">h</text>
<text x="407.6" y="96.1" font-size="12.7">=</text>
<text x="417.9" y="94.8" font-size="12.7" textLength="6.6" lengthAdjust="spacingAndGlyphs">9</text>
<text x="428.5" y="94.8" font-size="12.7" textLength="19" lengthAdjust="spacingAndGlyphs">mm</text>
<path d="M373.4 111.25 h2.8 M377.7 111.25 h5.3 M384.2 111.25 h2.9" fill="none" stroke="#000000" stroke-width="1.2000000000000002"/>
<circle cx="380.3" cy="111.25" r="2.81" fill="#000000"/>
<text x="389" y="115.05" font-size="15" font-style="italic" textLength="10.3" lengthAdjust="spacingAndGlyphs">w</text>
<text x="400.1" y="117.75" font-size="12.5" font-style="italic" textLength="5.2" lengthAdjust="spacingAndGlyphs">h</text>
<text x="407.6" y="116.75" font-size="12.7">=</text>
<text x="417.9" y="115.45" font-size="12.7" textLength="21.8" lengthAdjust="spacingAndGlyphs">10.4</text>
<text x="444.4" y="115.45" font-size="12.7" textLength="19" lengthAdjust="spacingAndGlyphs">mm</text>
<path d="M373.4 131.9 h13.7" fill="none" stroke="#0072BD" stroke-width="1.35"/>
<path d="M380.3 128.49 L383.69 133.78 L376.91 133.78 Z" fill="#0072BD"/>
<text x="389" y="135.7" font-size="15" font-style="italic" textLength="10.3" lengthAdjust="spacingAndGlyphs">w</text>
<text x="400.1" y="138.4" font-size="12.5" font-style="italic" textLength="5.2" lengthAdjust="spacingAndGlyphs">h</text>
<text x="407.6" y="137.4" font-size="12.7">=</text>
<text x="417.9" y="136.1" font-size="12.7" textLength="12.4" lengthAdjust="spacingAndGlyphs">12</text>
<text x="434.1" y="136.1" font-size="12.7" textLength="19" lengthAdjust="spacingAndGlyphs">mm</text>
<path d="M157.2 319.1 h3.6 M167.3 319.1 h3.6" fill="none" stroke="#D95319" stroke-width="1.25"/>
<rect x="161.73" y="316.74" width="4.73" height="4.73" fill="#D95319"/>
<text x="173.6" y="322.2" font-size="14.5" font-style="italic" textLength="7" lengthAdjust="spacingAndGlyphs">a</text>
<text x="183" y="324.1" font-size="12.7">=</text>
<text x="196.4" y="323.6" font-size="12.7" textLength="14.6" lengthAdjust="spacingAndGlyphs">4.5</text>
<text x="215.7" y="323.6" font-size="12.7" textLength="19" lengthAdjust="spacingAndGlyphs">mm</text>
<path d="M157.2 334.7 h2.1 M160.5 334.7 h6.2 M167.5 334.7 h3.4" fill="none" stroke="#000000" stroke-width="1.2000000000000002"/>
<circle cx="164.1" cy="334.7" r="2.81" fill="#000000"/>
<text x="173.6" y="337.8" font-size="14.5" font-style="italic" textLength="7" lengthAdjust="spacingAndGlyphs">a</text>
<text x="183" y="339.7" font-size="12.7">=</text>
<text x="196.4" y="339.2" font-size="12.7" textLength="14.6" lengthAdjust="spacingAndGlyphs">5.1</text>
<text x="215.7" y="339.2" font-size="12.7" textLength="19" lengthAdjust="spacingAndGlyphs">mm</text>
<path d="M157.2 350.3 h13.7" fill="none" stroke="#0072BD" stroke-width="1.35"/>
<path d="M164.1 346.89 L167.49 352.19 L160.71 352.19 Z" fill="#0072BD"/>
<text x="173.6" y="353.4" font-size="14.5" font-style="italic" textLength="7" lengthAdjust="spacingAndGlyphs">a</text>
<text x="183" y="355.3" font-size="12.7">=</text>
<text x="196.4" y="354.8" font-size="12.7" textLength="14.6" lengthAdjust="spacingAndGlyphs">5.7</text>
<text x="215.7" y="354.8" font-size="12.7" textLength="19" lengthAdjust="spacingAndGlyphs">mm</text>
<path d="M362.9 323.8 h3.6 M373 323.8 h3.6" fill="none" stroke="#D95319" stroke-width="1.25"/>
<rect x="367.43" y="321.44" width="4.73" height="4.73" fill="#D95319"/>
<text x="379.3" y="326.9" font-size="14.5" font-style="italic" textLength="7" lengthAdjust="spacingAndGlyphs">a</text>
<text x="388.7" y="328.8" font-size="12.7">=</text>
<text x="402.1" y="328.3" font-size="12.7" textLength="14.6" lengthAdjust="spacingAndGlyphs">4.5</text>
<text x="421.4" y="328.3" font-size="12.7" textLength="19" lengthAdjust="spacingAndGlyphs">mm</text>
<path d="M362.9 339.35 h2.1 M366.2 339.35 h6.2 M373.2 339.35 h3.4" fill="none" stroke="#000000" stroke-width="1.2000000000000002"/>
<circle cx="369.8" cy="339.35" r="2.81" fill="#000000"/>
<text x="379.3" y="342.45" font-size="14.5" font-style="italic" textLength="7" lengthAdjust="spacingAndGlyphs">a</text>
<text x="388.7" y="344.35" font-size="12.7">=</text>
<text x="402.1" y="343.85" font-size="12.7" textLength="14.6" lengthAdjust="spacingAndGlyphs">5.1</text>
<text x="421.4" y="343.85" font-size="12.7" textLength="19" lengthAdjust="spacingAndGlyphs">mm</text>
<path d="M362.9 354.9 h13.7" fill="none" stroke="#0072BD" stroke-width="1.35"/>
<path d="M369.8 351.5 L373.19 356.79 L366.41 356.79 Z" fill="#0072BD"/>
<text x="379.3" y="358" font-size="14.5" font-style="italic" textLength="7" lengthAdjust="spacingAndGlyphs">a</text>
<text x="388.7" y="359.9" font-size="12.7">=</text>
<text x="402.1" y="359.4" font-size="12.7" textLength="14.6" lengthAdjust="spacingAndGlyphs">5.7</text>
<text x="421.4" y="359.4" font-size="12.7" textLength="19" lengthAdjust="spacingAndGlyphs">mm</text>
</g>
</svg>
</body></html>
